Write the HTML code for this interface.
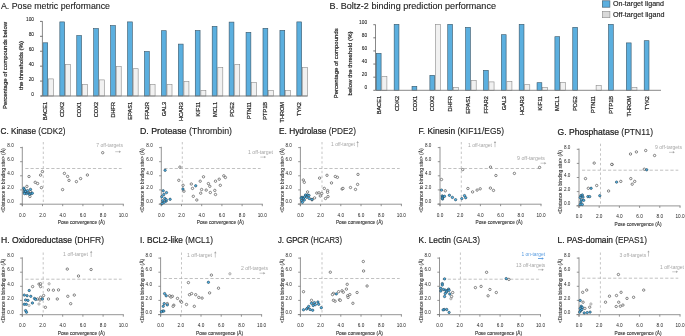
<!DOCTYPE html>
<html><head><meta charset="utf-8"><style>
html,body{margin:0;padding:0;background:#fff;}
svg{display:block;font-family:"Liberation Sans", sans-serif;will-change:transform;}
</style></head><body>
<svg width="685" height="336" viewBox="0 0 685 336">
<rect width="685" height="336" fill="#fff"/>
<text x="1.00" y="8.90" font-size="9.8" fill="#222" text-anchor="start" stroke="#222" stroke-width="0.12" textLength="109.00" lengthAdjust="spacingAndGlyphs" >A. Pose metric performance</text>
<rect x="42.90" y="42.80" width="4.80" height="53.20" fill="#5BAFDF" stroke="#3a5566" stroke-width="0.6"/>
<rect x="48.50" y="78.90" width="5.00" height="17.10" fill="#F1F1F1" stroke="#8a8a8a" stroke-width="0.6"/>
<text x="47.40" y="102.00" font-size="5.6" fill="#222" text-anchor="end" stroke="#222" stroke-width="0.2" transform="rotate(-90 47.40 102.00)" >BACE1</text>
<rect x="59.83" y="21.90" width="4.80" height="74.10" fill="#5BAFDF" stroke="#3a5566" stroke-width="0.6"/>
<rect x="65.43" y="64.50" width="5.00" height="31.50" fill="#F1F1F1" stroke="#8a8a8a" stroke-width="0.6"/>
<text x="64.33" y="102.00" font-size="5.6" fill="#222" text-anchor="end" stroke="#222" stroke-width="0.2" transform="rotate(-90 64.33 102.00)" >CDK2</text>
<rect x="76.76" y="35.50" width="4.80" height="60.50" fill="#5BAFDF" stroke="#3a5566" stroke-width="0.6"/>
<rect x="82.36" y="84.50" width="5.00" height="11.50" fill="#F1F1F1" stroke="#8a8a8a" stroke-width="0.6"/>
<text x="81.26" y="102.00" font-size="5.6" fill="#222" text-anchor="end" stroke="#222" stroke-width="0.2" transform="rotate(-90 81.26 102.00)" >COX1</text>
<rect x="93.69" y="28.50" width="4.80" height="67.50" fill="#5BAFDF" stroke="#3a5566" stroke-width="0.6"/>
<rect x="99.29" y="79.90" width="5.00" height="16.10" fill="#F1F1F1" stroke="#8a8a8a" stroke-width="0.6"/>
<text x="98.19" y="102.00" font-size="5.6" fill="#222" text-anchor="end" stroke="#222" stroke-width="0.2" transform="rotate(-90 98.19 102.00)" >COX2</text>
<rect x="110.62" y="25.50" width="4.80" height="70.50" fill="#5BAFDF" stroke="#3a5566" stroke-width="0.6"/>
<rect x="116.22" y="66.50" width="5.00" height="29.50" fill="#F1F1F1" stroke="#8a8a8a" stroke-width="0.6"/>
<text x="115.12" y="102.00" font-size="5.6" fill="#222" text-anchor="end" stroke="#222" stroke-width="0.2" transform="rotate(-90 115.12 102.00)" >DHFR</text>
<rect x="127.55" y="21.90" width="4.80" height="74.10" fill="#5BAFDF" stroke="#3a5566" stroke-width="0.6"/>
<rect x="133.15" y="68.70" width="5.00" height="27.30" fill="#F1F1F1" stroke="#8a8a8a" stroke-width="0.6"/>
<text x="132.05" y="102.00" font-size="5.6" fill="#222" text-anchor="end" stroke="#222" stroke-width="0.2" transform="rotate(-90 132.05 102.00)" >EPAS1</text>
<rect x="144.48" y="51.50" width="4.80" height="44.50" fill="#5BAFDF" stroke="#3a5566" stroke-width="0.6"/>
<rect x="150.08" y="84.50" width="5.00" height="11.50" fill="#F1F1F1" stroke="#8a8a8a" stroke-width="0.6"/>
<text x="148.98" y="102.00" font-size="5.6" fill="#222" text-anchor="end" stroke="#222" stroke-width="0.2" transform="rotate(-90 148.98 102.00)" >FFA2R</text>
<rect x="161.41" y="30.70" width="4.80" height="65.30" fill="#5BAFDF" stroke="#3a5566" stroke-width="0.6"/>
<rect x="167.01" y="84.50" width="5.00" height="11.50" fill="#F1F1F1" stroke="#8a8a8a" stroke-width="0.6"/>
<text x="165.91" y="102.00" font-size="5.6" fill="#222" text-anchor="end" stroke="#222" stroke-width="0.2" transform="rotate(-90 165.91 102.00)" >GAL3</text>
<rect x="178.34" y="44.10" width="4.80" height="51.90" fill="#5BAFDF" stroke="#3a5566" stroke-width="0.6"/>
<rect x="183.94" y="81.50" width="5.00" height="14.50" fill="#F1F1F1" stroke="#8a8a8a" stroke-width="0.6"/>
<text x="182.84" y="102.00" font-size="5.6" fill="#222" text-anchor="end" stroke="#222" stroke-width="0.2" transform="rotate(-90 182.84 102.00)" >HCAR3</text>
<rect x="195.27" y="30.50" width="4.80" height="65.50" fill="#5BAFDF" stroke="#3a5566" stroke-width="0.6"/>
<rect x="200.87" y="90.50" width="5.00" height="5.50" fill="#F1F1F1" stroke="#8a8a8a" stroke-width="0.6"/>
<text x="199.77" y="102.00" font-size="5.6" fill="#222" text-anchor="end" stroke="#222" stroke-width="0.2" transform="rotate(-90 199.77 102.00)" >KIF11</text>
<rect x="212.20" y="26.30" width="4.80" height="69.70" fill="#5BAFDF" stroke="#3a5566" stroke-width="0.6"/>
<rect x="217.80" y="67.50" width="5.00" height="28.50" fill="#F1F1F1" stroke="#8a8a8a" stroke-width="0.6"/>
<text x="216.70" y="102.00" font-size="5.6" fill="#222" text-anchor="end" stroke="#222" stroke-width="0.2" transform="rotate(-90 216.70 102.00)" >MCL1</text>
<rect x="229.13" y="22.10" width="4.80" height="73.90" fill="#5BAFDF" stroke="#3a5566" stroke-width="0.6"/>
<rect x="234.73" y="64.30" width="5.00" height="31.70" fill="#F1F1F1" stroke="#8a8a8a" stroke-width="0.6"/>
<text x="233.63" y="102.00" font-size="5.6" fill="#222" text-anchor="end" stroke="#222" stroke-width="0.2" transform="rotate(-90 233.63 102.00)" >PDE2</text>
<rect x="246.06" y="32.30" width="4.80" height="63.70" fill="#5BAFDF" stroke="#3a5566" stroke-width="0.6"/>
<rect x="251.66" y="82.50" width="5.00" height="13.50" fill="#F1F1F1" stroke="#8a8a8a" stroke-width="0.6"/>
<text x="250.56" y="102.00" font-size="5.6" fill="#222" text-anchor="end" stroke="#222" stroke-width="0.2" transform="rotate(-90 250.56 102.00)" >PTN11</text>
<rect x="262.99" y="28.30" width="4.80" height="67.70" fill="#5BAFDF" stroke="#3a5566" stroke-width="0.6"/>
<rect x="268.59" y="90.50" width="5.00" height="5.50" fill="#F1F1F1" stroke="#8a8a8a" stroke-width="0.6"/>
<text x="267.49" y="102.00" font-size="5.6" fill="#222" text-anchor="end" stroke="#222" stroke-width="0.2" transform="rotate(-90 267.49 102.00)" >PTP1B</text>
<rect x="279.92" y="30.30" width="4.80" height="65.70" fill="#5BAFDF" stroke="#3a5566" stroke-width="0.6"/>
<rect x="285.52" y="90.50" width="5.00" height="5.50" fill="#F1F1F1" stroke="#8a8a8a" stroke-width="0.6"/>
<text x="284.42" y="102.00" font-size="5.6" fill="#222" text-anchor="end" stroke="#222" stroke-width="0.2" transform="rotate(-90 284.42 102.00)" >THROM</text>
<rect x="296.85" y="21.90" width="4.80" height="74.10" fill="#5BAFDF" stroke="#3a5566" stroke-width="0.6"/>
<rect x="302.45" y="67.50" width="5.00" height="28.50" fill="#F1F1F1" stroke="#8a8a8a" stroke-width="0.6"/>
<text x="301.35" y="102.00" font-size="5.6" fill="#222" text-anchor="end" stroke="#222" stroke-width="0.2" transform="rotate(-90 301.35 102.00)" >TYK2</text>
<line x1="41.00" y1="96.00" x2="307.60" y2="96.00" stroke="#7a7a7a" stroke-width="0.9"/>
<line x1="42.40" y1="21.30" x2="42.40" y2="96.00" stroke="#7a7a7a" stroke-width="0.9"/>
<line x1="40.00" y1="96.00" x2="42.40" y2="96.00" stroke="#555" stroke-width="0.8"/>
<text x="34.00" y="95.90" font-size="4.8" fill="#222" text-anchor="end" stroke="#222" stroke-width="0.08" >0</text>
<line x1="40.00" y1="81.08" x2="42.40" y2="81.08" stroke="#555" stroke-width="0.8"/>
<text x="34.00" y="80.98" font-size="4.8" fill="#222" text-anchor="end" stroke="#222" stroke-width="0.08" >20</text>
<line x1="40.00" y1="66.16" x2="42.40" y2="66.16" stroke="#555" stroke-width="0.8"/>
<text x="34.00" y="66.06" font-size="4.8" fill="#222" text-anchor="end" stroke="#222" stroke-width="0.08" >40</text>
<line x1="40.00" y1="51.24" x2="42.40" y2="51.24" stroke="#555" stroke-width="0.8"/>
<text x="34.00" y="51.14" font-size="4.8" fill="#222" text-anchor="end" stroke="#222" stroke-width="0.08" >60</text>
<line x1="40.00" y1="36.32" x2="42.40" y2="36.32" stroke="#555" stroke-width="0.8"/>
<text x="34.00" y="36.22" font-size="4.8" fill="#222" text-anchor="end" stroke="#222" stroke-width="0.08" >80</text>
<line x1="40.00" y1="21.40" x2="42.40" y2="21.40" stroke="#555" stroke-width="0.8"/>
<text x="34.00" y="21.30" font-size="4.8" fill="#222" text-anchor="end" stroke="#222" stroke-width="0.08" >100</text>
<text x="7.30" y="65.50" font-size="6.0" fill="#222" text-anchor="middle" stroke="#222" stroke-width="0.2" textLength="87.00" lengthAdjust="spacingAndGlyphs" transform="rotate(-90 7.30 65.50)" >Percentage of compounds below</text>
<text x="22.50" y="65.50" font-size="6.0" fill="#222" text-anchor="middle" stroke="#222" stroke-width="0.2" textLength="49.00" lengthAdjust="spacingAndGlyphs" transform="rotate(-90 22.50 65.50)" >the thresholds (%)</text>
<text x="329.60" y="8.90" font-size="9.8" fill="#222" text-anchor="start" stroke="#222" stroke-width="0.12" textLength="166.40" lengthAdjust="spacingAndGlyphs" >B. Boltz-2 binding prediction performance</text>
<rect x="376.30" y="53.30" width="4.80" height="37.00" fill="#5BAFDF" stroke="#3a5566" stroke-width="0.6"/>
<rect x="381.80" y="76.30" width="5.10" height="14.00" fill="#F1F1F1" stroke="#8a8a8a" stroke-width="0.6"/>
<text x="380.80" y="96.00" font-size="5.6" fill="#222" text-anchor="end" stroke="#222" stroke-width="0.2" transform="rotate(-90 380.80 96.00)" >BACE1</text>
<rect x="394.16" y="24.30" width="4.80" height="66.00" fill="#5BAFDF" stroke="#3a5566" stroke-width="0.6"/>
<text x="398.66" y="96.00" font-size="5.6" fill="#222" text-anchor="end" stroke="#222" stroke-width="0.2" transform="rotate(-90 398.66 96.00)" >CDK2</text>
<rect x="412.02" y="86.30" width="4.80" height="4.00" fill="#5BAFDF" stroke="#3a5566" stroke-width="0.6"/>
<text x="416.52" y="96.00" font-size="5.6" fill="#222" text-anchor="end" stroke="#222" stroke-width="0.2" transform="rotate(-90 416.52 96.00)" >COX1</text>
<rect x="429.88" y="75.30" width="4.80" height="15.00" fill="#5BAFDF" stroke="#3a5566" stroke-width="0.6"/>
<rect x="435.38" y="24.30" width="5.10" height="66.00" fill="#F1F1F1" stroke="#8a8a8a" stroke-width="0.6"/>
<text x="434.38" y="96.00" font-size="5.6" fill="#222" text-anchor="end" stroke="#222" stroke-width="0.2" transform="rotate(-90 434.38 96.00)" >COX2</text>
<rect x="447.74" y="24.30" width="4.80" height="66.00" fill="#5BAFDF" stroke="#3a5566" stroke-width="0.6"/>
<rect x="453.24" y="87.30" width="5.10" height="3.00" fill="#F1F1F1" stroke="#8a8a8a" stroke-width="0.6"/>
<text x="452.24" y="96.00" font-size="5.6" fill="#222" text-anchor="end" stroke="#222" stroke-width="0.2" transform="rotate(-90 452.24 96.00)" >DHFR</text>
<rect x="465.60" y="27.30" width="4.80" height="63.00" fill="#5BAFDF" stroke="#3a5566" stroke-width="0.6"/>
<rect x="471.10" y="80.30" width="5.10" height="10.00" fill="#F1F1F1" stroke="#8a8a8a" stroke-width="0.6"/>
<text x="470.10" y="96.00" font-size="5.6" fill="#222" text-anchor="end" stroke="#222" stroke-width="0.2" transform="rotate(-90 470.10 96.00)" >EPAS1</text>
<rect x="483.46" y="70.30" width="4.80" height="20.00" fill="#5BAFDF" stroke="#3a5566" stroke-width="0.6"/>
<rect x="488.96" y="81.90" width="5.10" height="8.40" fill="#F1F1F1" stroke="#8a8a8a" stroke-width="0.6"/>
<text x="487.96" y="96.00" font-size="5.6" fill="#222" text-anchor="end" stroke="#222" stroke-width="0.2" transform="rotate(-90 487.96 96.00)" >FFAR2</text>
<rect x="501.32" y="34.70" width="4.80" height="55.60" fill="#5BAFDF" stroke="#3a5566" stroke-width="0.6"/>
<rect x="506.82" y="81.30" width="5.10" height="9.00" fill="#F1F1F1" stroke="#8a8a8a" stroke-width="0.6"/>
<text x="505.82" y="96.00" font-size="5.6" fill="#222" text-anchor="end" stroke="#222" stroke-width="0.2" transform="rotate(-90 505.82 96.00)" >GAL3</text>
<rect x="519.18" y="24.30" width="4.80" height="66.00" fill="#5BAFDF" stroke="#3a5566" stroke-width="0.6"/>
<rect x="524.68" y="84.70" width="5.10" height="5.60" fill="#F1F1F1" stroke="#8a8a8a" stroke-width="0.6"/>
<text x="523.68" y="96.00" font-size="5.6" fill="#222" text-anchor="end" stroke="#222" stroke-width="0.2" transform="rotate(-90 523.68 96.00)" >HCAR3</text>
<rect x="537.04" y="82.70" width="4.80" height="7.60" fill="#5BAFDF" stroke="#3a5566" stroke-width="0.6"/>
<rect x="542.54" y="87.50" width="5.10" height="2.80" fill="#F1F1F1" stroke="#8a8a8a" stroke-width="0.6"/>
<text x="541.54" y="96.00" font-size="5.6" fill="#222" text-anchor="end" stroke="#222" stroke-width="0.2" transform="rotate(-90 541.54 96.00)" >KIF11</text>
<rect x="554.90" y="36.70" width="4.80" height="53.60" fill="#5BAFDF" stroke="#3a5566" stroke-width="0.6"/>
<rect x="560.40" y="82.30" width="5.10" height="8.00" fill="#F1F1F1" stroke="#8a8a8a" stroke-width="0.6"/>
<text x="559.40" y="96.00" font-size="5.6" fill="#222" text-anchor="end" stroke="#222" stroke-width="0.2" transform="rotate(-90 559.40 96.00)" >MCL1</text>
<rect x="572.76" y="27.30" width="4.80" height="63.00" fill="#5BAFDF" stroke="#3a5566" stroke-width="0.6"/>
<text x="577.26" y="96.00" font-size="5.6" fill="#222" text-anchor="end" stroke="#222" stroke-width="0.2" transform="rotate(-90 577.26 96.00)" >PDE2</text>
<rect x="596.12" y="85.50" width="5.10" height="4.80" fill="#F1F1F1" stroke="#8a8a8a" stroke-width="0.6"/>
<text x="595.12" y="96.00" font-size="5.6" fill="#222" text-anchor="end" stroke="#222" stroke-width="0.2" transform="rotate(-90 595.12 96.00)" >PTN11</text>
<rect x="608.48" y="24.30" width="4.80" height="66.00" fill="#5BAFDF" stroke="#3a5566" stroke-width="0.6"/>
<text x="612.98" y="96.00" font-size="5.6" fill="#222" text-anchor="end" stroke="#222" stroke-width="0.2" transform="rotate(-90 612.98 96.00)" >PTP1B</text>
<rect x="626.34" y="42.90" width="4.80" height="47.40" fill="#5BAFDF" stroke="#3a5566" stroke-width="0.6"/>
<rect x="631.84" y="87.50" width="5.10" height="2.80" fill="#F1F1F1" stroke="#8a8a8a" stroke-width="0.6"/>
<text x="630.84" y="96.00" font-size="5.6" fill="#222" text-anchor="end" stroke="#222" stroke-width="0.2" transform="rotate(-90 630.84 96.00)" >THROM</text>
<rect x="644.20" y="40.70" width="4.80" height="49.60" fill="#5BAFDF" stroke="#3a5566" stroke-width="0.6"/>
<text x="648.70" y="96.00" font-size="5.6" fill="#222" text-anchor="end" stroke="#222" stroke-width="0.2" transform="rotate(-90 648.70 96.00)" >TYK2</text>
<line x1="375.50" y1="90.30" x2="661.00" y2="90.30" stroke="#7a7a7a" stroke-width="0.9"/>
<line x1="375.50" y1="24.60" x2="375.50" y2="90.30" stroke="#7a7a7a" stroke-width="0.9"/>
<line x1="373.30" y1="90.30" x2="375.50" y2="90.30" stroke="#555" stroke-width="0.8"/>
<text x="367.10" y="89.30" font-size="4.8" fill="#222" text-anchor="end" stroke="#222" stroke-width="0.08" >0</text>
<line x1="373.30" y1="77.18" x2="375.50" y2="77.18" stroke="#555" stroke-width="0.8"/>
<text x="367.10" y="76.18" font-size="4.8" fill="#222" text-anchor="end" stroke="#222" stroke-width="0.08" >20</text>
<line x1="373.30" y1="64.06" x2="375.50" y2="64.06" stroke="#555" stroke-width="0.8"/>
<text x="367.10" y="63.06" font-size="4.8" fill="#222" text-anchor="end" stroke="#222" stroke-width="0.08" >40</text>
<line x1="373.30" y1="50.94" x2="375.50" y2="50.94" stroke="#555" stroke-width="0.8"/>
<text x="367.10" y="49.94" font-size="4.8" fill="#222" text-anchor="end" stroke="#222" stroke-width="0.08" >60</text>
<line x1="373.30" y1="37.82" x2="375.50" y2="37.82" stroke="#555" stroke-width="0.8"/>
<text x="367.10" y="36.82" font-size="4.8" fill="#222" text-anchor="end" stroke="#222" stroke-width="0.08" >80</text>
<line x1="373.30" y1="24.70" x2="375.50" y2="24.70" stroke="#555" stroke-width="0.8"/>
<text x="367.10" y="23.70" font-size="4.8" fill="#222" text-anchor="end" stroke="#222" stroke-width="0.08" >100</text>
<text x="337.60" y="63.30" font-size="6.0" fill="#222" text-anchor="middle" stroke="#222" stroke-width="0.2" textLength="70.00" lengthAdjust="spacingAndGlyphs" transform="rotate(-90 337.60 63.30)" >Percentage of compounds</text>
<text x="352.20" y="63.40" font-size="6.0" fill="#222" text-anchor="middle" stroke="#222" stroke-width="0.2" textLength="64.00" lengthAdjust="spacingAndGlyphs" transform="rotate(-90 352.20 63.40)" >below the threshold (%)</text>
<rect x="602.30" y="0.80" width="7.60" height="6.40" fill="#5BAFDF" stroke="#3a5566" stroke-width="0.6"/>
<rect x="602.30" y="11.30" width="7.60" height="6.40" fill="#d9d9d9" stroke="#8a8a8a" stroke-width="0.6"/>
<text x="613.00" y="6.10" font-size="7.2" fill="#222" text-anchor="start" stroke="#222" stroke-width="0.15" textLength="51.00" lengthAdjust="spacingAndGlyphs" >On-target ligand</text>
<text x="613.00" y="17.10" font-size="7.2" fill="#222" text-anchor="start" stroke="#222" stroke-width="0.15" textLength="51.50" lengthAdjust="spacingAndGlyphs" >Off-target ligand</text>
<text x="0.50" y="134.40" font-size="9.8" fill="#222" textLength="65.00" lengthAdjust="spacingAndGlyphs"><tspan stroke="#1a1a1a" stroke-width="0.24">C. Kinase </tspan><tspan stroke="#222" stroke-width="0.12">(CDK2)</tspan></text>
<line x1="22.30" y1="146.80" x2="22.30" y2="206.20" stroke="#7a7a7a" stroke-width="0.8"/>
<line x1="19.70" y1="204.20" x2="123.80" y2="204.20" stroke="#7a7a7a" stroke-width="0.8"/>
<line x1="20.10" y1="204.00" x2="22.30" y2="204.00" stroke="#7a7a7a" stroke-width="0.8"/>
<text x="13.70" y="203.20" font-size="4.6" fill="#222" text-anchor="end" >0.0</text>
<line x1="20.10" y1="189.90" x2="22.30" y2="189.90" stroke="#7a7a7a" stroke-width="0.8"/>
<text x="13.70" y="189.10" font-size="4.6" fill="#222" text-anchor="end" >2.0</text>
<line x1="20.10" y1="175.80" x2="22.30" y2="175.80" stroke="#7a7a7a" stroke-width="0.8"/>
<text x="13.70" y="175.00" font-size="4.6" fill="#222" text-anchor="end" >4.0</text>
<line x1="20.10" y1="161.70" x2="22.30" y2="161.70" stroke="#7a7a7a" stroke-width="0.8"/>
<text x="13.70" y="160.90" font-size="4.6" fill="#222" text-anchor="end" >6.0</text>
<line x1="20.10" y1="147.60" x2="22.30" y2="147.60" stroke="#7a7a7a" stroke-width="0.8"/>
<text x="13.70" y="146.80" font-size="4.6" fill="#222" text-anchor="end" >8.0</text>
<line x1="22.30" y1="204.20" x2="22.30" y2="206.20" stroke="#7a7a7a" stroke-width="0.8"/>
<text x="22.30" y="216.50" font-size="4.7" fill="#222" text-anchor="middle" >0.0</text>
<line x1="42.50" y1="204.20" x2="42.50" y2="206.20" stroke="#7a7a7a" stroke-width="0.8"/>
<text x="42.50" y="216.50" font-size="4.7" fill="#222" text-anchor="middle" >2.0</text>
<line x1="62.70" y1="204.20" x2="62.70" y2="206.20" stroke="#7a7a7a" stroke-width="0.8"/>
<text x="62.70" y="216.50" font-size="4.7" fill="#222" text-anchor="middle" >4.0</text>
<line x1="82.90" y1="204.20" x2="82.90" y2="206.20" stroke="#7a7a7a" stroke-width="0.8"/>
<text x="82.90" y="216.50" font-size="4.7" fill="#222" text-anchor="middle" >6.0</text>
<line x1="103.10" y1="204.20" x2="103.10" y2="206.20" stroke="#7a7a7a" stroke-width="0.8"/>
<text x="103.10" y="216.50" font-size="4.7" fill="#222" text-anchor="middle" >8.0</text>
<line x1="123.30" y1="204.20" x2="123.30" y2="206.20" stroke="#7a7a7a" stroke-width="0.8"/>
<text x="123.30" y="216.50" font-size="4.7" fill="#222" text-anchor="middle" >10.0</text>
<text x="81.30" y="224.40" font-size="5.1" fill="#333" text-anchor="middle" stroke="#333" stroke-width="0.12" textLength="47.00" lengthAdjust="spacingAndGlyphs" >Pose convergence (Å)</text>
<text x="5.40" y="180.50" font-size="5.0" fill="#333" text-anchor="middle" stroke="#333" stroke-width="0.1" textLength="64.30" lengthAdjust="spacingAndGlyphs" transform="rotate(-90 5.40 180.50)" >&lt;Distance to binding site&gt; (Å)</text>
<line x1="43.30" y1="142.00" x2="43.30" y2="204.20" stroke="#acacac" stroke-width="0.7" stroke-dasharray="2.4,2.4"/>
<line x1="25.30" y1="168.50" x2="121.60" y2="168.50" stroke="#acacac" stroke-width="0.75" stroke-dasharray="3.2,2.0"/>
<text x="96.20" y="146.80" font-size="5.0" fill="#a6a6a6" text-anchor="start" textLength="26.80" lengthAdjust="spacingAndGlyphs" >7 off-targets</text>
<line x1="115.20" y1="151.70" x2="119.80" y2="151.70" stroke="#a6a6a6" stroke-width="0.6"/>
<path d="M121.00 151.70 L119.10 150.50 L119.10 152.90 Z" fill="#a6a6a6"/>
<circle cx="29.0" cy="176.5" r="1.2" fill="#fff" stroke="#3a3a3a" stroke-width="0.6"/>
<circle cx="35.2" cy="182.3" r="1.2" fill="#fff" stroke="#3a3a3a" stroke-width="0.6"/>
<circle cx="37.6" cy="183.5" r="1.2" fill="#fff" stroke="#3a3a3a" stroke-width="0.6"/>
<circle cx="40.6" cy="175.1" r="1.2" fill="#fff" stroke="#3a3a3a" stroke-width="0.6"/>
<circle cx="42.4" cy="171.5" r="1.2" fill="#fff" stroke="#3a3a3a" stroke-width="0.6"/>
<circle cx="41.4" cy="187.6" r="1.2" fill="#fff" stroke="#3a3a3a" stroke-width="0.6"/>
<circle cx="26.9" cy="186.4" r="1.2" fill="#fff" stroke="#3a3a3a" stroke-width="0.6"/>
<circle cx="29.9" cy="196.5" r="1.2" fill="#fff" stroke="#3a3a3a" stroke-width="0.6"/>
<circle cx="30.5" cy="191.8" r="1.2" fill="#fff" stroke="#3a3a3a" stroke-width="0.6"/>
<circle cx="62.6" cy="189.6" r="1.2" fill="#fff" stroke="#3a3a3a" stroke-width="0.6"/>
<circle cx="64.4" cy="173.4" r="1.2" fill="#fff" stroke="#3a3a3a" stroke-width="0.6"/>
<circle cx="67.6" cy="176.4" r="1.2" fill="#fff" stroke="#3a3a3a" stroke-width="0.6"/>
<circle cx="69.0" cy="180.4" r="1.2" fill="#fff" stroke="#3a3a3a" stroke-width="0.6"/>
<circle cx="76.4" cy="181.6" r="1.2" fill="#fff" stroke="#3a3a3a" stroke-width="0.6"/>
<circle cx="80.6" cy="178.6" r="1.2" fill="#fff" stroke="#3a3a3a" stroke-width="0.6"/>
<circle cx="87.4" cy="175.0" r="1.2" fill="#fff" stroke="#3a3a3a" stroke-width="0.6"/>
<circle cx="102.7" cy="152.7" r="1.2" fill="#fff" stroke="#3a3a3a" stroke-width="0.6"/>
<circle cx="23.9" cy="188.2" r="1.2" fill="#4FB6EC" stroke="#18303e" stroke-width="0.55"/>
<circle cx="24.5" cy="190.0" r="1.2" fill="#4FB6EC" stroke="#18303e" stroke-width="0.55"/>
<circle cx="24.3" cy="192.1" r="1.2" fill="#4FB6EC" stroke="#18303e" stroke-width="0.55"/>
<circle cx="25.7" cy="191.4" r="1.2" fill="#4FB6EC" stroke="#18303e" stroke-width="0.55"/>
<circle cx="26.3" cy="193.6" r="1.2" fill="#4FB6EC" stroke="#18303e" stroke-width="0.55"/>
<circle cx="27.5" cy="190.6" r="1.2" fill="#4FB6EC" stroke="#18303e" stroke-width="0.55"/>
<circle cx="28.1" cy="193.0" r="1.2" fill="#4FB6EC" stroke="#18303e" stroke-width="0.55"/>
<circle cx="29.3" cy="194.2" r="1.2" fill="#4FB6EC" stroke="#18303e" stroke-width="0.55"/>
<circle cx="30.5" cy="189.4" r="1.2" fill="#4FB6EC" stroke="#18303e" stroke-width="0.55"/>
<circle cx="31.1" cy="193.6" r="1.2" fill="#4FB6EC" stroke="#18303e" stroke-width="0.55"/>
<circle cx="32.3" cy="193.2" r="1.2" fill="#4FB6EC" stroke="#18303e" stroke-width="0.55"/>
<circle cx="24.5" cy="193.6" r="1.2" fill="#4FB6EC" stroke="#18303e" stroke-width="0.55"/>
<text x="140.00" y="134.40" font-size="9.8" fill="#222" textLength="92.00" lengthAdjust="spacingAndGlyphs"><tspan stroke="#1a1a1a" stroke-width="0.24">D. Protease </tspan><tspan stroke="#222" stroke-width="0.12">(Thrombin)</tspan></text>
<line x1="161.30" y1="146.80" x2="161.30" y2="206.20" stroke="#7a7a7a" stroke-width="0.8"/>
<line x1="158.70" y1="204.20" x2="262.80" y2="204.20" stroke="#7a7a7a" stroke-width="0.8"/>
<line x1="159.10" y1="204.00" x2="161.30" y2="204.00" stroke="#7a7a7a" stroke-width="0.8"/>
<text x="152.70" y="203.20" font-size="4.6" fill="#222" text-anchor="end" >0.0</text>
<line x1="159.10" y1="189.90" x2="161.30" y2="189.90" stroke="#7a7a7a" stroke-width="0.8"/>
<text x="152.70" y="189.10" font-size="4.6" fill="#222" text-anchor="end" >2.0</text>
<line x1="159.10" y1="175.80" x2="161.30" y2="175.80" stroke="#7a7a7a" stroke-width="0.8"/>
<text x="152.70" y="175.00" font-size="4.6" fill="#222" text-anchor="end" >4.0</text>
<line x1="159.10" y1="161.70" x2="161.30" y2="161.70" stroke="#7a7a7a" stroke-width="0.8"/>
<text x="152.70" y="160.90" font-size="4.6" fill="#222" text-anchor="end" >6.0</text>
<line x1="159.10" y1="147.60" x2="161.30" y2="147.60" stroke="#7a7a7a" stroke-width="0.8"/>
<text x="152.70" y="146.80" font-size="4.6" fill="#222" text-anchor="end" >8.0</text>
<line x1="161.30" y1="204.20" x2="161.30" y2="206.20" stroke="#7a7a7a" stroke-width="0.8"/>
<text x="161.30" y="216.50" font-size="4.7" fill="#222" text-anchor="middle" >0.0</text>
<line x1="181.50" y1="204.20" x2="181.50" y2="206.20" stroke="#7a7a7a" stroke-width="0.8"/>
<text x="181.50" y="216.50" font-size="4.7" fill="#222" text-anchor="middle" >2.0</text>
<line x1="201.70" y1="204.20" x2="201.70" y2="206.20" stroke="#7a7a7a" stroke-width="0.8"/>
<text x="201.70" y="216.50" font-size="4.7" fill="#222" text-anchor="middle" >4.0</text>
<line x1="221.90" y1="204.20" x2="221.90" y2="206.20" stroke="#7a7a7a" stroke-width="0.8"/>
<text x="221.90" y="216.50" font-size="4.7" fill="#222" text-anchor="middle" >6.0</text>
<line x1="242.10" y1="204.20" x2="242.10" y2="206.20" stroke="#7a7a7a" stroke-width="0.8"/>
<text x="242.10" y="216.50" font-size="4.7" fill="#222" text-anchor="middle" >8.0</text>
<line x1="262.30" y1="204.20" x2="262.30" y2="206.20" stroke="#7a7a7a" stroke-width="0.8"/>
<text x="262.30" y="216.50" font-size="4.7" fill="#222" text-anchor="middle" >10.0</text>
<text x="220.30" y="224.40" font-size="5.1" fill="#333" text-anchor="middle" stroke="#333" stroke-width="0.12" textLength="47.00" lengthAdjust="spacingAndGlyphs" >Pose convergence (Å)</text>
<text x="144.40" y="180.50" font-size="5.0" fill="#333" text-anchor="middle" stroke="#333" stroke-width="0.1" textLength="64.30" lengthAdjust="spacingAndGlyphs" transform="rotate(-90 144.40 180.50)" >&lt;Distance to binding site&gt; (Å)</text>
<line x1="182.30" y1="142.00" x2="182.30" y2="204.20" stroke="#acacac" stroke-width="0.7" stroke-dasharray="2.4,2.4"/>
<line x1="164.30" y1="168.50" x2="260.60" y2="168.50" stroke="#acacac" stroke-width="0.75" stroke-dasharray="3.2,2.0"/>
<text x="248.00" y="153.80" font-size="5.0" fill="#a6a6a6" text-anchor="start" textLength="25.00" lengthAdjust="spacingAndGlyphs" >1 off-target</text>
<line x1="260.30" y1="157.10" x2="264.90" y2="157.10" stroke="#a6a6a6" stroke-width="0.6"/>
<path d="M266.10 157.10 L264.20 155.90 L264.20 158.30 Z" fill="#a6a6a6"/>
<circle cx="179.9" cy="167.1" r="1.2" fill="#fff" stroke="#3a3a3a" stroke-width="0.6"/>
<circle cx="178.8" cy="180.3" r="1.2" fill="#fff" stroke="#3a3a3a" stroke-width="0.6"/>
<circle cx="183.1" cy="185.3" r="1.2" fill="#fff" stroke="#3a3a3a" stroke-width="0.6"/>
<circle cx="184.0" cy="191.2" r="1.2" fill="#fff" stroke="#3a3a3a" stroke-width="0.6"/>
<circle cx="191.3" cy="184.0" r="1.2" fill="#fff" stroke="#3a3a3a" stroke-width="0.6"/>
<circle cx="192.5" cy="188.4" r="1.2" fill="#fff" stroke="#3a3a3a" stroke-width="0.6"/>
<circle cx="193.3" cy="196.3" r="1.2" fill="#fff" stroke="#3a3a3a" stroke-width="0.6"/>
<circle cx="196.8" cy="200.0" r="1.2" fill="#fff" stroke="#3a3a3a" stroke-width="0.6"/>
<circle cx="200.2" cy="181.2" r="1.2" fill="#fff" stroke="#3a3a3a" stroke-width="0.6"/>
<circle cx="203.5" cy="176.8" r="1.2" fill="#fff" stroke="#3a3a3a" stroke-width="0.6"/>
<circle cx="201.6" cy="189.5" r="1.2" fill="#fff" stroke="#3a3a3a" stroke-width="0.6"/>
<circle cx="200.7" cy="193.2" r="1.2" fill="#fff" stroke="#3a3a3a" stroke-width="0.6"/>
<circle cx="206.2" cy="190.1" r="1.2" fill="#fff" stroke="#3a3a3a" stroke-width="0.6"/>
<circle cx="208.4" cy="183.6" r="1.2" fill="#fff" stroke="#3a3a3a" stroke-width="0.6"/>
<circle cx="209.8" cy="186.3" r="1.2" fill="#fff" stroke="#3a3a3a" stroke-width="0.6"/>
<circle cx="210.3" cy="192.5" r="1.2" fill="#fff" stroke="#3a3a3a" stroke-width="0.6"/>
<circle cx="214.8" cy="190.4" r="1.2" fill="#fff" stroke="#3a3a3a" stroke-width="0.6"/>
<circle cx="215.5" cy="181.2" r="1.2" fill="#fff" stroke="#3a3a3a" stroke-width="0.6"/>
<circle cx="215.5" cy="194.5" r="1.2" fill="#fff" stroke="#3a3a3a" stroke-width="0.6"/>
<circle cx="219.2" cy="179.2" r="1.2" fill="#fff" stroke="#3a3a3a" stroke-width="0.6"/>
<circle cx="220.3" cy="185.3" r="1.2" fill="#fff" stroke="#3a3a3a" stroke-width="0.6"/>
<circle cx="223.8" cy="175.8" r="1.2" fill="#fff" stroke="#3a3a3a" stroke-width="0.6"/>
<circle cx="225.4" cy="177.5" r="1.2" fill="#fff" stroke="#3a3a3a" stroke-width="0.6"/>
<circle cx="165.1" cy="170.3" r="1.2" fill="#4FB6EC" stroke="#18303e" stroke-width="0.55"/>
<circle cx="195.7" cy="185.8" r="1.2" fill="#4FB6EC" stroke="#18303e" stroke-width="0.55"/>
<circle cx="182.9" cy="189.0" r="1.2" fill="#4FB6EC" stroke="#18303e" stroke-width="0.55"/>
<circle cx="163.2" cy="190.8" r="1.2" fill="#4FB6EC" stroke="#18303e" stroke-width="0.55"/>
<circle cx="166.5" cy="192.6" r="1.2" fill="#4FB6EC" stroke="#18303e" stroke-width="0.55"/>
<circle cx="163.8" cy="194.5" r="1.2" fill="#4FB6EC" stroke="#18303e" stroke-width="0.55"/>
<circle cx="161.8" cy="196.7" r="1.2" fill="#4FB6EC" stroke="#18303e" stroke-width="0.55"/>
<circle cx="164.8" cy="198.4" r="1.2" fill="#4FB6EC" stroke="#18303e" stroke-width="0.55"/>
<circle cx="170.1" cy="199.3" r="1.2" fill="#4FB6EC" stroke="#18303e" stroke-width="0.55"/>
<circle cx="162.8" cy="200.8" r="1.2" fill="#4FB6EC" stroke="#18303e" stroke-width="0.55"/>
<circle cx="166.2" cy="201.1" r="1.2" fill="#4FB6EC" stroke="#18303e" stroke-width="0.55"/>
<circle cx="162.1" cy="203.6" r="1.2" fill="#4FB6EC" stroke="#18303e" stroke-width="0.55"/>
<circle cx="164.2" cy="202.2" r="1.2" fill="#4FB6EC" stroke="#18303e" stroke-width="0.55"/>
<circle cx="166.2" cy="199.7" r="1.2" fill="#4FB6EC" stroke="#18303e" stroke-width="0.55"/>
<text x="279.00" y="134.40" font-size="9.8" fill="#222" textLength="77.00" lengthAdjust="spacingAndGlyphs"><tspan stroke="#1a1a1a" stroke-width="0.24">E. Hydrolase </tspan><tspan stroke="#222" stroke-width="0.12">(PDE2)</tspan></text>
<line x1="300.40" y1="146.80" x2="300.40" y2="206.20" stroke="#7a7a7a" stroke-width="0.8"/>
<line x1="297.80" y1="204.20" x2="401.90" y2="204.20" stroke="#7a7a7a" stroke-width="0.8"/>
<line x1="298.20" y1="204.00" x2="300.40" y2="204.00" stroke="#7a7a7a" stroke-width="0.8"/>
<text x="291.80" y="203.20" font-size="4.6" fill="#222" text-anchor="end" >0.0</text>
<line x1="298.20" y1="189.90" x2="300.40" y2="189.90" stroke="#7a7a7a" stroke-width="0.8"/>
<text x="291.80" y="189.10" font-size="4.6" fill="#222" text-anchor="end" >2.0</text>
<line x1="298.20" y1="175.80" x2="300.40" y2="175.80" stroke="#7a7a7a" stroke-width="0.8"/>
<text x="291.80" y="175.00" font-size="4.6" fill="#222" text-anchor="end" >4.0</text>
<line x1="298.20" y1="161.70" x2="300.40" y2="161.70" stroke="#7a7a7a" stroke-width="0.8"/>
<text x="291.80" y="160.90" font-size="4.6" fill="#222" text-anchor="end" >6.0</text>
<line x1="298.20" y1="147.60" x2="300.40" y2="147.60" stroke="#7a7a7a" stroke-width="0.8"/>
<text x="291.80" y="146.80" font-size="4.6" fill="#222" text-anchor="end" >8.0</text>
<line x1="300.40" y1="204.20" x2="300.40" y2="206.20" stroke="#7a7a7a" stroke-width="0.8"/>
<text x="300.40" y="216.50" font-size="4.7" fill="#222" text-anchor="middle" >0.0</text>
<line x1="320.60" y1="204.20" x2="320.60" y2="206.20" stroke="#7a7a7a" stroke-width="0.8"/>
<text x="320.60" y="216.50" font-size="4.7" fill="#222" text-anchor="middle" >2.0</text>
<line x1="340.80" y1="204.20" x2="340.80" y2="206.20" stroke="#7a7a7a" stroke-width="0.8"/>
<text x="340.80" y="216.50" font-size="4.7" fill="#222" text-anchor="middle" >4.0</text>
<line x1="361.00" y1="204.20" x2="361.00" y2="206.20" stroke="#7a7a7a" stroke-width="0.8"/>
<text x="361.00" y="216.50" font-size="4.7" fill="#222" text-anchor="middle" >6.0</text>
<line x1="381.20" y1="204.20" x2="381.20" y2="206.20" stroke="#7a7a7a" stroke-width="0.8"/>
<text x="381.20" y="216.50" font-size="4.7" fill="#222" text-anchor="middle" >8.0</text>
<line x1="401.40" y1="204.20" x2="401.40" y2="206.20" stroke="#7a7a7a" stroke-width="0.8"/>
<text x="401.40" y="216.50" font-size="4.7" fill="#222" text-anchor="middle" >10.0</text>
<text x="359.40" y="224.40" font-size="5.1" fill="#333" text-anchor="middle" stroke="#333" stroke-width="0.12" textLength="47.00" lengthAdjust="spacingAndGlyphs" >Pose convergence (Å)</text>
<text x="283.50" y="180.50" font-size="5.0" fill="#333" text-anchor="middle" stroke="#333" stroke-width="0.1" textLength="64.30" lengthAdjust="spacingAndGlyphs" transform="rotate(-90 283.50 180.50)" >&lt;Distance to binding site&gt; (Å)</text>
<line x1="322.00" y1="142.00" x2="322.00" y2="204.20" stroke="#acacac" stroke-width="0.7" stroke-dasharray="2.4,2.4"/>
<line x1="303.40" y1="168.50" x2="399.70" y2="168.50" stroke="#acacac" stroke-width="0.75" stroke-dasharray="3.2,2.0"/>
<text x="331.00" y="146.20" font-size="5.0" fill="#a6a6a6" text-anchor="start" textLength="24.00" lengthAdjust="spacingAndGlyphs" >1 off-target</text>
<line x1="357.60" y1="147.20" x2="357.60" y2="142.20" stroke="#a6a6a6" stroke-width="0.6"/>
<path d="M357.60 141.00 L356.40 142.90 L358.80 142.90 Z" fill="#a6a6a6"/>
<circle cx="303.3" cy="180.0" r="1.2" fill="#fff" stroke="#3a3a3a" stroke-width="0.6"/>
<circle cx="304.3" cy="182.3" r="1.2" fill="#fff" stroke="#3a3a3a" stroke-width="0.6"/>
<circle cx="319.6" cy="178.1" r="1.2" fill="#fff" stroke="#3a3a3a" stroke-width="0.6"/>
<circle cx="327.0" cy="175.3" r="1.2" fill="#fff" stroke="#3a3a3a" stroke-width="0.6"/>
<circle cx="335.3" cy="176.5" r="1.2" fill="#fff" stroke="#3a3a3a" stroke-width="0.6"/>
<circle cx="337.4" cy="177.3" r="1.2" fill="#fff" stroke="#3a3a3a" stroke-width="0.6"/>
<circle cx="358.0" cy="174.4" r="1.2" fill="#fff" stroke="#3a3a3a" stroke-width="0.6"/>
<circle cx="331.5" cy="182.9" r="1.2" fill="#fff" stroke="#3a3a3a" stroke-width="0.6"/>
<circle cx="357.6" cy="184.4" r="1.2" fill="#fff" stroke="#3a3a3a" stroke-width="0.6"/>
<circle cx="342.1" cy="189.0" r="1.2" fill="#fff" stroke="#3a3a3a" stroke-width="0.6"/>
<circle cx="343.0" cy="188.4" r="1.2" fill="#fff" stroke="#3a3a3a" stroke-width="0.6"/>
<circle cx="350.5" cy="187.5" r="1.2" fill="#fff" stroke="#3a3a3a" stroke-width="0.6"/>
<circle cx="355.5" cy="189.4" r="1.2" fill="#fff" stroke="#3a3a3a" stroke-width="0.6"/>
<circle cx="324.3" cy="188.4" r="1.2" fill="#fff" stroke="#3a3a3a" stroke-width="0.6"/>
<circle cx="327.6" cy="190.6" r="1.2" fill="#fff" stroke="#3a3a3a" stroke-width="0.6"/>
<circle cx="327.6" cy="192.3" r="1.2" fill="#fff" stroke="#3a3a3a" stroke-width="0.6"/>
<circle cx="328.0" cy="196.6" r="1.2" fill="#fff" stroke="#3a3a3a" stroke-width="0.6"/>
<circle cx="325.5" cy="198.5" r="1.2" fill="#fff" stroke="#3a3a3a" stroke-width="0.6"/>
<circle cx="316.8" cy="193.1" r="1.2" fill="#fff" stroke="#3a3a3a" stroke-width="0.6"/>
<circle cx="319.0" cy="192.8" r="1.2" fill="#fff" stroke="#3a3a3a" stroke-width="0.6"/>
<circle cx="321.8" cy="193.5" r="1.2" fill="#fff" stroke="#3a3a3a" stroke-width="0.6"/>
<circle cx="320.3" cy="196.0" r="1.2" fill="#fff" stroke="#3a3a3a" stroke-width="0.6"/>
<circle cx="314.6" cy="197.9" r="1.2" fill="#fff" stroke="#3a3a3a" stroke-width="0.6"/>
<circle cx="312.0" cy="199.8" r="1.2" fill="#fff" stroke="#3a3a3a" stroke-width="0.6"/>
<circle cx="307.6" cy="191.9" r="1.2" fill="#fff" stroke="#3a3a3a" stroke-width="0.6"/>
<circle cx="302.0" cy="197.3" r="1.2" fill="#4FB6EC" stroke="#18303e" stroke-width="0.55"/>
<circle cx="303.3" cy="198.5" r="1.2" fill="#4FB6EC" stroke="#18303e" stroke-width="0.55"/>
<circle cx="301.8" cy="200.6" r="1.2" fill="#4FB6EC" stroke="#18303e" stroke-width="0.55"/>
<circle cx="302.4" cy="202.3" r="1.2" fill="#4FB6EC" stroke="#18303e" stroke-width="0.55"/>
<circle cx="304.3" cy="200.0" r="1.2" fill="#4FB6EC" stroke="#18303e" stroke-width="0.55"/>
<circle cx="305.5" cy="195.0" r="1.2" fill="#4FB6EC" stroke="#18303e" stroke-width="0.55"/>
<circle cx="307.4" cy="195.0" r="1.2" fill="#4FB6EC" stroke="#18303e" stroke-width="0.55"/>
<circle cx="309.0" cy="195.4" r="1.2" fill="#4FB6EC" stroke="#18303e" stroke-width="0.55"/>
<circle cx="306.8" cy="197.3" r="1.2" fill="#4FB6EC" stroke="#18303e" stroke-width="0.55"/>
<circle cx="309.3" cy="198.5" r="1.2" fill="#4FB6EC" stroke="#18303e" stroke-width="0.55"/>
<circle cx="312.0" cy="199.4" r="1.2" fill="#4FB6EC" stroke="#18303e" stroke-width="0.55"/>
<circle cx="301.1" cy="198.1" r="1.2" fill="#4FB6EC" stroke="#18303e" stroke-width="0.55"/>
<circle cx="304.5" cy="196.9" r="1.2" fill="#4FB6EC" stroke="#18303e" stroke-width="0.55"/>
<text x="418.60" y="134.40" font-size="9.8" fill="#222" textLength="85.40" lengthAdjust="spacingAndGlyphs"><tspan stroke="#1a1a1a" stroke-width="0.24">F. Kinesin </tspan><tspan stroke="#222" stroke-width="0.12">(KIF11/EG5)</tspan></text>
<line x1="440.00" y1="146.80" x2="440.00" y2="206.20" stroke="#7a7a7a" stroke-width="0.8"/>
<line x1="437.40" y1="204.20" x2="541.50" y2="204.20" stroke="#7a7a7a" stroke-width="0.8"/>
<line x1="437.80" y1="204.00" x2="440.00" y2="204.00" stroke="#7a7a7a" stroke-width="0.8"/>
<text x="431.40" y="203.20" font-size="4.6" fill="#222" text-anchor="end" >0.0</text>
<line x1="437.80" y1="189.90" x2="440.00" y2="189.90" stroke="#7a7a7a" stroke-width="0.8"/>
<text x="431.40" y="189.10" font-size="4.6" fill="#222" text-anchor="end" >2.0</text>
<line x1="437.80" y1="175.80" x2="440.00" y2="175.80" stroke="#7a7a7a" stroke-width="0.8"/>
<text x="431.40" y="175.00" font-size="4.6" fill="#222" text-anchor="end" >4.0</text>
<line x1="437.80" y1="161.70" x2="440.00" y2="161.70" stroke="#7a7a7a" stroke-width="0.8"/>
<text x="431.40" y="160.90" font-size="4.6" fill="#222" text-anchor="end" >6.0</text>
<line x1="437.80" y1="147.60" x2="440.00" y2="147.60" stroke="#7a7a7a" stroke-width="0.8"/>
<text x="431.40" y="146.80" font-size="4.6" fill="#222" text-anchor="end" >8.0</text>
<line x1="440.00" y1="204.20" x2="440.00" y2="206.20" stroke="#7a7a7a" stroke-width="0.8"/>
<text x="440.00" y="216.50" font-size="4.7" fill="#222" text-anchor="middle" >0.0</text>
<line x1="460.20" y1="204.20" x2="460.20" y2="206.20" stroke="#7a7a7a" stroke-width="0.8"/>
<text x="460.20" y="216.50" font-size="4.7" fill="#222" text-anchor="middle" >2.0</text>
<line x1="480.40" y1="204.20" x2="480.40" y2="206.20" stroke="#7a7a7a" stroke-width="0.8"/>
<text x="480.40" y="216.50" font-size="4.7" fill="#222" text-anchor="middle" >4.0</text>
<line x1="500.60" y1="204.20" x2="500.60" y2="206.20" stroke="#7a7a7a" stroke-width="0.8"/>
<text x="500.60" y="216.50" font-size="4.7" fill="#222" text-anchor="middle" >6.0</text>
<line x1="520.80" y1="204.20" x2="520.80" y2="206.20" stroke="#7a7a7a" stroke-width="0.8"/>
<text x="520.80" y="216.50" font-size="4.7" fill="#222" text-anchor="middle" >8.0</text>
<line x1="541.00" y1="204.20" x2="541.00" y2="206.20" stroke="#7a7a7a" stroke-width="0.8"/>
<text x="541.00" y="216.50" font-size="4.7" fill="#222" text-anchor="middle" >10.0</text>
<text x="499.00" y="224.40" font-size="5.1" fill="#333" text-anchor="middle" stroke="#333" stroke-width="0.12" textLength="47.00" lengthAdjust="spacingAndGlyphs" >Pose convergence (Å)</text>
<text x="423.10" y="180.50" font-size="5.0" fill="#333" text-anchor="middle" stroke="#333" stroke-width="0.1" textLength="64.30" lengthAdjust="spacingAndGlyphs" transform="rotate(-90 423.10 180.50)" >&lt;Distance to binding site&gt; (Å)</text>
<line x1="461.30" y1="142.00" x2="461.30" y2="204.20" stroke="#acacac" stroke-width="0.7" stroke-dasharray="2.4,2.4"/>
<line x1="443.00" y1="168.50" x2="539.30" y2="168.50" stroke="#acacac" stroke-width="0.75" stroke-dasharray="3.2,2.0"/>
<text x="468.00" y="146.80" font-size="5.0" fill="#a6a6a6" text-anchor="start" textLength="24.00" lengthAdjust="spacingAndGlyphs" >1 off-target</text>
<line x1="495.00" y1="147.20" x2="495.00" y2="142.20" stroke="#a6a6a6" stroke-width="0.6"/>
<path d="M495.00 141.00 L493.80 142.90 L496.20 142.90 Z" fill="#a6a6a6"/>
<text x="517.00" y="159.80" font-size="5.0" fill="#a6a6a6" text-anchor="start" textLength="28.00" lengthAdjust="spacingAndGlyphs" >9 off-targets</text>
<line x1="540.50" y1="163.20" x2="545.10" y2="163.20" stroke="#a6a6a6" stroke-width="0.6"/>
<path d="M546.30 163.20 L544.40 162.00 L544.40 164.40 Z" fill="#a6a6a6"/>
<circle cx="441.5" cy="179.5" r="1.2" fill="#fff" stroke="#3a3a3a" stroke-width="0.6"/>
<circle cx="462.7" cy="169.6" r="1.2" fill="#fff" stroke="#3a3a3a" stroke-width="0.6"/>
<circle cx="490.5" cy="167.1" r="1.2" fill="#fff" stroke="#3a3a3a" stroke-width="0.6"/>
<circle cx="495.9" cy="175.5" r="1.2" fill="#fff" stroke="#3a3a3a" stroke-width="0.6"/>
<circle cx="514.4" cy="173.4" r="1.2" fill="#fff" stroke="#3a3a3a" stroke-width="0.6"/>
<circle cx="539.6" cy="167.4" r="1.2" fill="#fff" stroke="#3a3a3a" stroke-width="0.6"/>
<circle cx="445.3" cy="190.8" r="1.2" fill="#fff" stroke="#3a3a3a" stroke-width="0.6"/>
<circle cx="467.9" cy="188.5" r="1.2" fill="#fff" stroke="#3a3a3a" stroke-width="0.6"/>
<circle cx="472.6" cy="191.9" r="1.2" fill="#fff" stroke="#3a3a3a" stroke-width="0.6"/>
<circle cx="477.1" cy="190.1" r="1.2" fill="#fff" stroke="#3a3a3a" stroke-width="0.6"/>
<circle cx="480.2" cy="188.8" r="1.2" fill="#fff" stroke="#3a3a3a" stroke-width="0.6"/>
<circle cx="490.4" cy="188.1" r="1.2" fill="#fff" stroke="#3a3a3a" stroke-width="0.6"/>
<circle cx="493.5" cy="190.4" r="1.2" fill="#fff" stroke="#3a3a3a" stroke-width="0.6"/>
<circle cx="441.5" cy="190.1" r="1.2" fill="#4FB6EC" stroke="#18303e" stroke-width="0.55"/>
<circle cx="442.2" cy="195.9" r="1.2" fill="#4FB6EC" stroke="#18303e" stroke-width="0.55"/>
<circle cx="442.8" cy="197.0" r="1.2" fill="#4FB6EC" stroke="#18303e" stroke-width="0.55"/>
<circle cx="444.5" cy="196.3" r="1.2" fill="#4FB6EC" stroke="#18303e" stroke-width="0.55"/>
<circle cx="442.6" cy="199.0" r="1.2" fill="#4FB6EC" stroke="#18303e" stroke-width="0.55"/>
<circle cx="449.4" cy="195.3" r="1.2" fill="#4FB6EC" stroke="#18303e" stroke-width="0.55"/>
<circle cx="452.4" cy="197.4" r="1.2" fill="#4FB6EC" stroke="#18303e" stroke-width="0.55"/>
<circle cx="455.6" cy="199.7" r="1.2" fill="#4FB6EC" stroke="#18303e" stroke-width="0.55"/>
<circle cx="461.8" cy="198.6" r="1.2" fill="#4FB6EC" stroke="#18303e" stroke-width="0.55"/>
<circle cx="464.5" cy="195.6" r="1.2" fill="#4FB6EC" stroke="#18303e" stroke-width="0.55"/>
<circle cx="465.7" cy="197.7" r="1.2" fill="#4FB6EC" stroke="#18303e" stroke-width="0.55"/>
<circle cx="442.2" cy="198.1" r="1.2" fill="#4FB6EC" stroke="#18303e" stroke-width="0.55"/>
<text x="557.60" y="135.10" font-size="9.8" fill="#222" textLength="95.40" lengthAdjust="spacingAndGlyphs"><tspan stroke="#1a1a1a" stroke-width="0.24">G. Phosphatase </tspan><tspan stroke="#222" stroke-width="0.12">(PTN11)</tspan></text>
<line x1="579.00" y1="148.50" x2="579.00" y2="207.90" stroke="#7a7a7a" stroke-width="0.8"/>
<line x1="576.40" y1="205.90" x2="680.50" y2="205.90" stroke="#7a7a7a" stroke-width="0.8"/>
<line x1="576.80" y1="205.70" x2="579.00" y2="205.70" stroke="#7a7a7a" stroke-width="0.8"/>
<text x="570.40" y="204.90" font-size="4.6" fill="#222" text-anchor="end" >0.0</text>
<line x1="576.80" y1="191.60" x2="579.00" y2="191.60" stroke="#7a7a7a" stroke-width="0.8"/>
<text x="570.40" y="190.80" font-size="4.6" fill="#222" text-anchor="end" >2.0</text>
<line x1="576.80" y1="177.50" x2="579.00" y2="177.50" stroke="#7a7a7a" stroke-width="0.8"/>
<text x="570.40" y="176.70" font-size="4.6" fill="#222" text-anchor="end" >4.0</text>
<line x1="576.80" y1="163.40" x2="579.00" y2="163.40" stroke="#7a7a7a" stroke-width="0.8"/>
<text x="570.40" y="162.60" font-size="4.6" fill="#222" text-anchor="end" >6.0</text>
<line x1="576.80" y1="149.30" x2="579.00" y2="149.30" stroke="#7a7a7a" stroke-width="0.8"/>
<text x="570.40" y="148.50" font-size="4.6" fill="#222" text-anchor="end" >8.0</text>
<line x1="579.00" y1="205.90" x2="579.00" y2="207.90" stroke="#7a7a7a" stroke-width="0.8"/>
<text x="579.00" y="218.20" font-size="4.7" fill="#222" text-anchor="middle" >0.0</text>
<line x1="599.20" y1="205.90" x2="599.20" y2="207.90" stroke="#7a7a7a" stroke-width="0.8"/>
<text x="599.20" y="218.20" font-size="4.7" fill="#222" text-anchor="middle" >2.0</text>
<line x1="619.40" y1="205.90" x2="619.40" y2="207.90" stroke="#7a7a7a" stroke-width="0.8"/>
<text x="619.40" y="218.20" font-size="4.7" fill="#222" text-anchor="middle" >4.0</text>
<line x1="639.60" y1="205.90" x2="639.60" y2="207.90" stroke="#7a7a7a" stroke-width="0.8"/>
<text x="639.60" y="218.20" font-size="4.7" fill="#222" text-anchor="middle" >6.0</text>
<line x1="659.80" y1="205.90" x2="659.80" y2="207.90" stroke="#7a7a7a" stroke-width="0.8"/>
<text x="659.80" y="218.20" font-size="4.7" fill="#222" text-anchor="middle" >8.0</text>
<line x1="680.00" y1="205.90" x2="680.00" y2="207.90" stroke="#7a7a7a" stroke-width="0.8"/>
<text x="680.00" y="218.20" font-size="4.7" fill="#222" text-anchor="middle" >10.0</text>
<text x="638.00" y="226.10" font-size="5.1" fill="#333" text-anchor="middle" stroke="#333" stroke-width="0.12" textLength="47.00" lengthAdjust="spacingAndGlyphs" >Pose convergence (Å)</text>
<text x="562.10" y="182.20" font-size="5.0" fill="#333" text-anchor="middle" stroke="#333" stroke-width="0.1" textLength="64.30" lengthAdjust="spacingAndGlyphs" transform="rotate(-90 562.10 182.20)" >&lt;Distance to binding site&gt; (Å)</text>
<line x1="600.50" y1="143.70" x2="600.50" y2="205.90" stroke="#acacac" stroke-width="0.7" stroke-dasharray="2.4,2.4"/>
<line x1="582.00" y1="170.20" x2="678.30" y2="170.20" stroke="#acacac" stroke-width="0.75" stroke-dasharray="3.2,2.0"/>
<text x="655.00" y="148.80" font-size="5.0" fill="#a6a6a6" text-anchor="start" textLength="27.00" lengthAdjust="spacingAndGlyphs" >9 off-targets</text>
<line x1="669.00" y1="152.30" x2="673.60" y2="152.30" stroke="#a6a6a6" stroke-width="0.6"/>
<path d="M674.80 152.30 L672.90 151.10 L672.90 153.50 Z" fill="#a6a6a6"/>
<circle cx="594.2" cy="163.1" r="1.2" fill="#fff" stroke="#3a3a3a" stroke-width="0.6"/>
<circle cx="612.1" cy="164.5" r="1.2" fill="#fff" stroke="#3a3a3a" stroke-width="0.6"/>
<circle cx="585.5" cy="178.6" r="1.2" fill="#fff" stroke="#3a3a3a" stroke-width="0.6"/>
<circle cx="596.7" cy="185.5" r="1.2" fill="#fff" stroke="#3a3a3a" stroke-width="0.6"/>
<circle cx="588.3" cy="188.3" r="1.2" fill="#fff" stroke="#3a3a3a" stroke-width="0.6"/>
<circle cx="620.8" cy="181.4" r="1.2" fill="#fff" stroke="#3a3a3a" stroke-width="0.6"/>
<circle cx="608.6" cy="191.0" r="1.2" fill="#fff" stroke="#3a3a3a" stroke-width="0.6"/>
<circle cx="630.8" cy="178.6" r="1.2" fill="#fff" stroke="#3a3a3a" stroke-width="0.6"/>
<circle cx="634.7" cy="181.4" r="1.2" fill="#fff" stroke="#3a3a3a" stroke-width="0.6"/>
<circle cx="632.2" cy="184.2" r="1.2" fill="#fff" stroke="#3a3a3a" stroke-width="0.6"/>
<circle cx="630.5" cy="154.0" r="1.2" fill="#fff" stroke="#3a3a3a" stroke-width="0.6"/>
<circle cx="636.4" cy="151.9" r="1.2" fill="#fff" stroke="#3a3a3a" stroke-width="0.6"/>
<circle cx="645.7" cy="150.5" r="1.2" fill="#fff" stroke="#3a3a3a" stroke-width="0.6"/>
<circle cx="654.6" cy="155.5" r="1.2" fill="#fff" stroke="#3a3a3a" stroke-width="0.6"/>
<circle cx="611.8" cy="164.4" r="1.2" fill="#fff" stroke="#3a3a3a" stroke-width="0.6"/>
<circle cx="644.3" cy="169.2" r="1.2" fill="#fff" stroke="#3a3a3a" stroke-width="0.6"/>
<circle cx="616.6" cy="182.1" r="1.2" fill="#4FB6EC" stroke="#18303e" stroke-width="0.55"/>
<circle cx="646.7" cy="169.8" r="1.2" fill="#4FB6EC" stroke="#18303e" stroke-width="0.55"/>
<circle cx="591.1" cy="188.3" r="1.2" fill="#4FB6EC" stroke="#18303e" stroke-width="0.55"/>
<circle cx="599.8" cy="195.7" r="1.2" fill="#4FB6EC" stroke="#18303e" stroke-width="0.55"/>
<circle cx="587.9" cy="196.6" r="1.2" fill="#4FB6EC" stroke="#18303e" stroke-width="0.55"/>
<circle cx="589.7" cy="196.6" r="1.2" fill="#4FB6EC" stroke="#18303e" stroke-width="0.55"/>
<circle cx="580.9" cy="195.7" r="1.2" fill="#4FB6EC" stroke="#18303e" stroke-width="0.55"/>
<circle cx="582.3" cy="195.0" r="1.2" fill="#4FB6EC" stroke="#18303e" stroke-width="0.55"/>
<circle cx="580.2" cy="197.5" r="1.2" fill="#4FB6EC" stroke="#18303e" stroke-width="0.55"/>
<circle cx="583.0" cy="197.1" r="1.2" fill="#4FB6EC" stroke="#18303e" stroke-width="0.55"/>
<circle cx="581.6" cy="199.9" r="1.2" fill="#4FB6EC" stroke="#18303e" stroke-width="0.55"/>
<circle cx="583.7" cy="200.3" r="1.2" fill="#4FB6EC" stroke="#18303e" stroke-width="0.55"/>
<circle cx="580.9" cy="202.0" r="1.2" fill="#4FB6EC" stroke="#18303e" stroke-width="0.55"/>
<circle cx="580.2" cy="204.5" r="1.2" fill="#4FB6EC" stroke="#18303e" stroke-width="0.55"/>
<circle cx="582.3" cy="204.5" r="1.2" fill="#4FB6EC" stroke="#18303e" stroke-width="0.55"/>
<text x="1.00" y="243.00" font-size="9.8" fill="#222" textLength="103.00" lengthAdjust="spacingAndGlyphs"><tspan stroke="#1a1a1a" stroke-width="0.24">H. Oxidoreductase </tspan><tspan stroke="#222" stroke-width="0.12">(DHFR)</tspan></text>
<line x1="22.30" y1="257.30" x2="22.30" y2="316.70" stroke="#7a7a7a" stroke-width="0.8"/>
<line x1="19.70" y1="314.70" x2="123.80" y2="314.70" stroke="#7a7a7a" stroke-width="0.8"/>
<line x1="20.10" y1="314.50" x2="22.30" y2="314.50" stroke="#7a7a7a" stroke-width="0.8"/>
<text x="13.70" y="313.70" font-size="4.6" fill="#222" text-anchor="end" >0.0</text>
<line x1="20.10" y1="300.40" x2="22.30" y2="300.40" stroke="#7a7a7a" stroke-width="0.8"/>
<text x="13.70" y="299.60" font-size="4.6" fill="#222" text-anchor="end" >2.0</text>
<line x1="20.10" y1="286.30" x2="22.30" y2="286.30" stroke="#7a7a7a" stroke-width="0.8"/>
<text x="13.70" y="285.50" font-size="4.6" fill="#222" text-anchor="end" >4.0</text>
<line x1="20.10" y1="272.20" x2="22.30" y2="272.20" stroke="#7a7a7a" stroke-width="0.8"/>
<text x="13.70" y="271.40" font-size="4.6" fill="#222" text-anchor="end" >6.0</text>
<line x1="20.10" y1="258.10" x2="22.30" y2="258.10" stroke="#7a7a7a" stroke-width="0.8"/>
<text x="13.70" y="257.30" font-size="4.6" fill="#222" text-anchor="end" >8.0</text>
<line x1="22.30" y1="314.70" x2="22.30" y2="316.70" stroke="#7a7a7a" stroke-width="0.8"/>
<text x="22.30" y="327.00" font-size="4.7" fill="#222" text-anchor="middle" >0.0</text>
<line x1="42.50" y1="314.70" x2="42.50" y2="316.70" stroke="#7a7a7a" stroke-width="0.8"/>
<text x="42.50" y="327.00" font-size="4.7" fill="#222" text-anchor="middle" >2.0</text>
<line x1="62.70" y1="314.70" x2="62.70" y2="316.70" stroke="#7a7a7a" stroke-width="0.8"/>
<text x="62.70" y="327.00" font-size="4.7" fill="#222" text-anchor="middle" >4.0</text>
<line x1="82.90" y1="314.70" x2="82.90" y2="316.70" stroke="#7a7a7a" stroke-width="0.8"/>
<text x="82.90" y="327.00" font-size="4.7" fill="#222" text-anchor="middle" >6.0</text>
<line x1="103.10" y1="314.70" x2="103.10" y2="316.70" stroke="#7a7a7a" stroke-width="0.8"/>
<text x="103.10" y="327.00" font-size="4.7" fill="#222" text-anchor="middle" >8.0</text>
<line x1="123.30" y1="314.70" x2="123.30" y2="316.70" stroke="#7a7a7a" stroke-width="0.8"/>
<text x="123.30" y="327.00" font-size="4.7" fill="#222" text-anchor="middle" >10.0</text>
<text x="81.30" y="334.90" font-size="5.1" fill="#333" text-anchor="middle" stroke="#333" stroke-width="0.12" textLength="47.00" lengthAdjust="spacingAndGlyphs" >Pose convergence (Å)</text>
<text x="5.40" y="291.00" font-size="5.0" fill="#333" text-anchor="middle" stroke="#333" stroke-width="0.1" textLength="64.30" lengthAdjust="spacingAndGlyphs" transform="rotate(-90 5.40 291.00)" >&lt;Distance to binding site&gt; (Å)</text>
<line x1="43.20" y1="252.50" x2="43.20" y2="314.70" stroke="#acacac" stroke-width="0.7" stroke-dasharray="2.4,2.4"/>
<line x1="25.30" y1="279.20" x2="121.60" y2="279.20" stroke="#acacac" stroke-width="0.75" stroke-dasharray="3.2,2.0"/>
<text x="63.10" y="255.80" font-size="5.0" fill="#a6a6a6" text-anchor="start" textLength="24.80" lengthAdjust="spacingAndGlyphs" >1 off-target</text>
<line x1="91.20" y1="257.00" x2="91.20" y2="252.00" stroke="#a6a6a6" stroke-width="0.6"/>
<path d="M91.20 250.80 L90.00 252.70 L92.40 252.70 Z" fill="#a6a6a6"/>
<circle cx="49.1" cy="283.8" r="1.2" fill="#ddd" stroke="#999" stroke-width="0.6"/>
<circle cx="39.0" cy="304.0" r="1.2" fill="#ddd" stroke="#999" stroke-width="0.6"/>
<circle cx="29.0" cy="305.5" r="1.2" fill="#ddd" stroke="#999" stroke-width="0.6"/>
<circle cx="67.3" cy="269.1" r="1.2" fill="#fff" stroke="#3a3a3a" stroke-width="0.6"/>
<circle cx="91.1" cy="269.5" r="1.2" fill="#fff" stroke="#3a3a3a" stroke-width="0.6"/>
<circle cx="78.5" cy="276.0" r="1.2" fill="#fff" stroke="#3a3a3a" stroke-width="0.6"/>
<circle cx="32.6" cy="286.6" r="1.2" fill="#fff" stroke="#3a3a3a" stroke-width="0.6"/>
<circle cx="39.0" cy="284.1" r="1.2" fill="#fff" stroke="#3a3a3a" stroke-width="0.6"/>
<circle cx="40.6" cy="283.8" r="1.2" fill="#fff" stroke="#3a3a3a" stroke-width="0.6"/>
<circle cx="40.6" cy="286.6" r="1.2" fill="#fff" stroke="#3a3a3a" stroke-width="0.6"/>
<circle cx="48.5" cy="289.9" r="1.2" fill="#fff" stroke="#3a3a3a" stroke-width="0.6"/>
<circle cx="53.4" cy="290.2" r="1.2" fill="#fff" stroke="#3a3a3a" stroke-width="0.6"/>
<circle cx="58.5" cy="289.9" r="1.2" fill="#fff" stroke="#3a3a3a" stroke-width="0.6"/>
<circle cx="43.6" cy="295.5" r="1.2" fill="#fff" stroke="#3a3a3a" stroke-width="0.6"/>
<circle cx="40.6" cy="297.3" r="1.2" fill="#fff" stroke="#3a3a3a" stroke-width="0.6"/>
<circle cx="48.5" cy="299.0" r="1.2" fill="#fff" stroke="#3a3a3a" stroke-width="0.6"/>
<circle cx="57.3" cy="299.0" r="1.2" fill="#fff" stroke="#3a3a3a" stroke-width="0.6"/>
<circle cx="67.8" cy="296.3" r="1.2" fill="#fff" stroke="#3a3a3a" stroke-width="0.6"/>
<circle cx="74.3" cy="295.1" r="1.2" fill="#fff" stroke="#3a3a3a" stroke-width="0.6"/>
<circle cx="70.7" cy="303.7" r="1.2" fill="#fff" stroke="#3a3a3a" stroke-width="0.6"/>
<circle cx="45.4" cy="307.3" r="1.2" fill="#fff" stroke="#3a3a3a" stroke-width="0.6"/>
<circle cx="37.5" cy="299.0" r="1.2" fill="#fff" stroke="#3a3a3a" stroke-width="0.6"/>
<circle cx="40.0" cy="300.0" r="1.2" fill="#fff" stroke="#3a3a3a" stroke-width="0.6"/>
<circle cx="29.2" cy="290.5" r="1.2" fill="#4FB6EC" stroke="#18303e" stroke-width="0.55"/>
<circle cx="24.3" cy="295.1" r="1.2" fill="#4FB6EC" stroke="#18303e" stroke-width="0.55"/>
<circle cx="27.1" cy="295.7" r="1.2" fill="#4FB6EC" stroke="#18303e" stroke-width="0.55"/>
<circle cx="30.8" cy="296.3" r="1.2" fill="#4FB6EC" stroke="#18303e" stroke-width="0.55"/>
<circle cx="25.6" cy="300.0" r="1.2" fill="#4FB6EC" stroke="#18303e" stroke-width="0.55"/>
<circle cx="28.0" cy="300.4" r="1.2" fill="#4FB6EC" stroke="#18303e" stroke-width="0.55"/>
<circle cx="34.5" cy="298.5" r="1.2" fill="#4FB6EC" stroke="#18303e" stroke-width="0.55"/>
<circle cx="35.7" cy="299.4" r="1.2" fill="#4FB6EC" stroke="#18303e" stroke-width="0.55"/>
<circle cx="42.4" cy="299.0" r="1.2" fill="#4FB6EC" stroke="#18303e" stroke-width="0.55"/>
<circle cx="32.4" cy="303.0" r="1.2" fill="#4FB6EC" stroke="#18303e" stroke-width="0.55"/>
<circle cx="24.3" cy="304.3" r="1.2" fill="#4FB6EC" stroke="#18303e" stroke-width="0.55"/>
<circle cx="26.3" cy="304.3" r="1.2" fill="#4FB6EC" stroke="#18303e" stroke-width="0.55"/>
<circle cx="25.6" cy="310.6" r="1.2" fill="#4FB6EC" stroke="#18303e" stroke-width="0.55"/>
<circle cx="26.5" cy="312.2" r="1.2" fill="#4FB6EC" stroke="#18303e" stroke-width="0.55"/>
<text x="140.00" y="243.00" font-size="9.8" fill="#222" textLength="73.00" lengthAdjust="spacingAndGlyphs"><tspan stroke="#1a1a1a" stroke-width="0.24">I. BCL2-like </tspan><tspan stroke="#222" stroke-width="0.12">(MCL1)</tspan></text>
<line x1="160.60" y1="257.30" x2="160.60" y2="316.70" stroke="#7a7a7a" stroke-width="0.8"/>
<line x1="158.00" y1="314.70" x2="262.10" y2="314.70" stroke="#7a7a7a" stroke-width="0.8"/>
<line x1="158.40" y1="314.50" x2="160.60" y2="314.50" stroke="#7a7a7a" stroke-width="0.8"/>
<text x="152.00" y="313.70" font-size="4.6" fill="#222" text-anchor="end" >0.0</text>
<line x1="158.40" y1="300.40" x2="160.60" y2="300.40" stroke="#7a7a7a" stroke-width="0.8"/>
<text x="152.00" y="299.60" font-size="4.6" fill="#222" text-anchor="end" >2.0</text>
<line x1="158.40" y1="286.30" x2="160.60" y2="286.30" stroke="#7a7a7a" stroke-width="0.8"/>
<text x="152.00" y="285.50" font-size="4.6" fill="#222" text-anchor="end" >4.0</text>
<line x1="158.40" y1="272.20" x2="160.60" y2="272.20" stroke="#7a7a7a" stroke-width="0.8"/>
<text x="152.00" y="271.40" font-size="4.6" fill="#222" text-anchor="end" >6.0</text>
<line x1="158.40" y1="258.10" x2="160.60" y2="258.10" stroke="#7a7a7a" stroke-width="0.8"/>
<text x="152.00" y="257.30" font-size="4.6" fill="#222" text-anchor="end" >8.0</text>
<line x1="160.60" y1="314.70" x2="160.60" y2="316.70" stroke="#7a7a7a" stroke-width="0.8"/>
<text x="160.60" y="327.00" font-size="4.7" fill="#222" text-anchor="middle" >0.0</text>
<line x1="180.80" y1="314.70" x2="180.80" y2="316.70" stroke="#7a7a7a" stroke-width="0.8"/>
<text x="180.80" y="327.00" font-size="4.7" fill="#222" text-anchor="middle" >2.0</text>
<line x1="201.00" y1="314.70" x2="201.00" y2="316.70" stroke="#7a7a7a" stroke-width="0.8"/>
<text x="201.00" y="327.00" font-size="4.7" fill="#222" text-anchor="middle" >4.0</text>
<line x1="221.20" y1="314.70" x2="221.20" y2="316.70" stroke="#7a7a7a" stroke-width="0.8"/>
<text x="221.20" y="327.00" font-size="4.7" fill="#222" text-anchor="middle" >6.0</text>
<line x1="241.40" y1="314.70" x2="241.40" y2="316.70" stroke="#7a7a7a" stroke-width="0.8"/>
<text x="241.40" y="327.00" font-size="4.7" fill="#222" text-anchor="middle" >8.0</text>
<line x1="261.60" y1="314.70" x2="261.60" y2="316.70" stroke="#7a7a7a" stroke-width="0.8"/>
<text x="261.60" y="327.00" font-size="4.7" fill="#222" text-anchor="middle" >10.0</text>
<text x="219.60" y="334.90" font-size="5.1" fill="#333" text-anchor="middle" stroke="#333" stroke-width="0.12" textLength="47.00" lengthAdjust="spacingAndGlyphs" >Pose convergence (Å)</text>
<text x="143.70" y="291.00" font-size="5.0" fill="#333" text-anchor="middle" stroke="#333" stroke-width="0.1" textLength="64.30" lengthAdjust="spacingAndGlyphs" transform="rotate(-90 143.70 291.00)" >&lt;Distance to binding site&gt; (Å)</text>
<line x1="181.50" y1="252.50" x2="181.50" y2="314.70" stroke="#acacac" stroke-width="0.7" stroke-dasharray="2.4,2.4"/>
<line x1="163.60" y1="278.50" x2="259.90" y2="278.50" stroke="#acacac" stroke-width="0.75" stroke-dasharray="3.2,2.0"/>
<text x="187.00" y="256.80" font-size="5.0" fill="#a6a6a6" text-anchor="start" textLength="25.00" lengthAdjust="spacingAndGlyphs" >1 off-target</text>
<line x1="215.30" y1="257.50" x2="215.30" y2="252.50" stroke="#a6a6a6" stroke-width="0.6"/>
<path d="M215.30 251.30 L214.10 253.20 L216.50 253.20 Z" fill="#a6a6a6"/>
<text x="241.00" y="269.80" font-size="5.0" fill="#a6a6a6" text-anchor="start" textLength="27.00" lengthAdjust="spacingAndGlyphs" >2 off-targets</text>
<line x1="259.50" y1="273.20" x2="264.10" y2="273.20" stroke="#a6a6a6" stroke-width="0.6"/>
<path d="M265.30 273.20 L263.40 272.00 L263.40 274.40 Z" fill="#a6a6a6"/>
<circle cx="229.9" cy="273.8" r="1.2" fill="#ddd" stroke="#999" stroke-width="0.6"/>
<circle cx="211.4" cy="275.1" r="1.2" fill="#fff" stroke="#3a3a3a" stroke-width="0.6"/>
<circle cx="188.4" cy="282.6" r="1.2" fill="#fff" stroke="#3a3a3a" stroke-width="0.6"/>
<circle cx="218.5" cy="288.2" r="1.2" fill="#fff" stroke="#3a3a3a" stroke-width="0.6"/>
<circle cx="209.6" cy="292.9" r="1.2" fill="#fff" stroke="#3a3a3a" stroke-width="0.6"/>
<circle cx="189.5" cy="294.7" r="1.2" fill="#fff" stroke="#3a3a3a" stroke-width="0.6"/>
<circle cx="191.6" cy="293.6" r="1.2" fill="#fff" stroke="#3a3a3a" stroke-width="0.6"/>
<circle cx="195.7" cy="294.7" r="1.2" fill="#fff" stroke="#3a3a3a" stroke-width="0.6"/>
<circle cx="198.8" cy="297.4" r="1.2" fill="#fff" stroke="#3a3a3a" stroke-width="0.6"/>
<circle cx="202.1" cy="298.1" r="1.2" fill="#fff" stroke="#3a3a3a" stroke-width="0.6"/>
<circle cx="177.5" cy="298.4" r="1.2" fill="#fff" stroke="#3a3a3a" stroke-width="0.6"/>
<circle cx="180.6" cy="301.2" r="1.2" fill="#fff" stroke="#3a3a3a" stroke-width="0.6"/>
<circle cx="181.6" cy="302.2" r="1.2" fill="#fff" stroke="#3a3a3a" stroke-width="0.6"/>
<circle cx="186.5" cy="304.5" r="1.2" fill="#fff" stroke="#3a3a3a" stroke-width="0.6"/>
<circle cx="194.3" cy="306.3" r="1.2" fill="#fff" stroke="#3a3a3a" stroke-width="0.6"/>
<circle cx="173.8" cy="305.2" r="1.2" fill="#fff" stroke="#3a3a3a" stroke-width="0.6"/>
<circle cx="173.1" cy="306.3" r="1.2" fill="#fff" stroke="#3a3a3a" stroke-width="0.6"/>
<circle cx="169.6" cy="295.8" r="1.2" fill="#fff" stroke="#3a3a3a" stroke-width="0.6"/>
<circle cx="172.4" cy="296.3" r="1.2" fill="#fff" stroke="#3a3a3a" stroke-width="0.6"/>
<circle cx="171.0" cy="297.1" r="1.2" fill="#fff" stroke="#3a3a3a" stroke-width="0.6"/>
<circle cx="167.3" cy="303.6" r="1.2" fill="#fff" stroke="#3a3a3a" stroke-width="0.6"/>
<circle cx="208.4" cy="282.3" r="1.2" fill="#4FB6EC" stroke="#18303e" stroke-width="0.55"/>
<circle cx="164.6" cy="293.6" r="1.2" fill="#4FB6EC" stroke="#18303e" stroke-width="0.55"/>
<circle cx="166.2" cy="295.8" r="1.2" fill="#4FB6EC" stroke="#18303e" stroke-width="0.55"/>
<circle cx="164.2" cy="303.6" r="1.2" fill="#4FB6EC" stroke="#18303e" stroke-width="0.55"/>
<circle cx="167.3" cy="304.9" r="1.2" fill="#4FB6EC" stroke="#18303e" stroke-width="0.55"/>
<circle cx="163.2" cy="306.3" r="1.2" fill="#4FB6EC" stroke="#18303e" stroke-width="0.55"/>
<circle cx="162.8" cy="311.1" r="1.2" fill="#4FB6EC" stroke="#18303e" stroke-width="0.55"/>
<circle cx="161.4" cy="311.8" r="1.2" fill="#4FB6EC" stroke="#18303e" stroke-width="0.55"/>
<circle cx="163.8" cy="311.1" r="1.2" fill="#4FB6EC" stroke="#18303e" stroke-width="0.55"/>
<text x="278.00" y="243.00" font-size="9.8" fill="#222" textLength="64.00" lengthAdjust="spacingAndGlyphs"><tspan stroke="#1a1a1a" stroke-width="0.24">J. GPCR </tspan><tspan stroke="#222" stroke-width="0.12">(HCAR3)</tspan></text>
<line x1="300.40" y1="257.30" x2="300.40" y2="316.70" stroke="#7a7a7a" stroke-width="0.8"/>
<line x1="297.80" y1="314.70" x2="401.90" y2="314.70" stroke="#7a7a7a" stroke-width="0.8"/>
<line x1="298.20" y1="314.50" x2="300.40" y2="314.50" stroke="#7a7a7a" stroke-width="0.8"/>
<text x="291.80" y="313.70" font-size="4.6" fill="#222" text-anchor="end" >0.0</text>
<line x1="298.20" y1="300.40" x2="300.40" y2="300.40" stroke="#7a7a7a" stroke-width="0.8"/>
<text x="291.80" y="299.60" font-size="4.6" fill="#222" text-anchor="end" >2.0</text>
<line x1="298.20" y1="286.30" x2="300.40" y2="286.30" stroke="#7a7a7a" stroke-width="0.8"/>
<text x="291.80" y="285.50" font-size="4.6" fill="#222" text-anchor="end" >4.0</text>
<line x1="298.20" y1="272.20" x2="300.40" y2="272.20" stroke="#7a7a7a" stroke-width="0.8"/>
<text x="291.80" y="271.40" font-size="4.6" fill="#222" text-anchor="end" >6.0</text>
<line x1="298.20" y1="258.10" x2="300.40" y2="258.10" stroke="#7a7a7a" stroke-width="0.8"/>
<text x="291.80" y="257.30" font-size="4.6" fill="#222" text-anchor="end" >8.0</text>
<line x1="300.40" y1="314.70" x2="300.40" y2="316.70" stroke="#7a7a7a" stroke-width="0.8"/>
<text x="300.40" y="327.00" font-size="4.7" fill="#222" text-anchor="middle" >0.0</text>
<line x1="320.60" y1="314.70" x2="320.60" y2="316.70" stroke="#7a7a7a" stroke-width="0.8"/>
<text x="320.60" y="327.00" font-size="4.7" fill="#222" text-anchor="middle" >2.0</text>
<line x1="340.80" y1="314.70" x2="340.80" y2="316.70" stroke="#7a7a7a" stroke-width="0.8"/>
<text x="340.80" y="327.00" font-size="4.7" fill="#222" text-anchor="middle" >4.0</text>
<line x1="361.00" y1="314.70" x2="361.00" y2="316.70" stroke="#7a7a7a" stroke-width="0.8"/>
<text x="361.00" y="327.00" font-size="4.7" fill="#222" text-anchor="middle" >6.0</text>
<line x1="381.20" y1="314.70" x2="381.20" y2="316.70" stroke="#7a7a7a" stroke-width="0.8"/>
<text x="381.20" y="327.00" font-size="4.7" fill="#222" text-anchor="middle" >8.0</text>
<line x1="401.40" y1="314.70" x2="401.40" y2="316.70" stroke="#7a7a7a" stroke-width="0.8"/>
<text x="401.40" y="327.00" font-size="4.7" fill="#222" text-anchor="middle" >10.0</text>
<text x="359.40" y="334.90" font-size="5.1" fill="#333" text-anchor="middle" stroke="#333" stroke-width="0.12" textLength="47.00" lengthAdjust="spacingAndGlyphs" >Pose convergence (Å)</text>
<text x="283.50" y="291.00" font-size="5.0" fill="#333" text-anchor="middle" stroke="#333" stroke-width="0.1" textLength="64.30" lengthAdjust="spacingAndGlyphs" transform="rotate(-90 283.50 291.00)" >&lt;Distance to binding site&gt; (Å)</text>
<line x1="322.00" y1="252.50" x2="322.00" y2="314.70" stroke="#acacac" stroke-width="0.7" stroke-dasharray="2.4,2.4"/>
<line x1="303.40" y1="278.50" x2="399.70" y2="278.50" stroke="#acacac" stroke-width="0.75" stroke-dasharray="3.2,2.0"/>
<circle cx="363.3" cy="261.5" r="1.2" fill="#fff" stroke="#3a3a3a" stroke-width="0.6"/>
<circle cx="363.6" cy="271.0" r="1.2" fill="#fff" stroke="#3a3a3a" stroke-width="0.6"/>
<circle cx="330.3" cy="272.2" r="1.2" fill="#fff" stroke="#3a3a3a" stroke-width="0.6"/>
<circle cx="347.2" cy="284.3" r="1.2" fill="#fff" stroke="#3a3a3a" stroke-width="0.6"/>
<circle cx="367.1" cy="286.0" r="1.2" fill="#fff" stroke="#3a3a3a" stroke-width="0.6"/>
<circle cx="346.4" cy="289.1" r="1.2" fill="#fff" stroke="#3a3a3a" stroke-width="0.6"/>
<circle cx="303.5" cy="291.7" r="1.2" fill="#fff" stroke="#3a3a3a" stroke-width="0.6"/>
<circle cx="333.4" cy="293.4" r="1.2" fill="#fff" stroke="#3a3a3a" stroke-width="0.6"/>
<circle cx="332.5" cy="294.6" r="1.2" fill="#fff" stroke="#3a3a3a" stroke-width="0.6"/>
<circle cx="338.6" cy="291.7" r="1.2" fill="#fff" stroke="#3a3a3a" stroke-width="0.6"/>
<circle cx="342.0" cy="290.8" r="1.2" fill="#fff" stroke="#3a3a3a" stroke-width="0.6"/>
<circle cx="343.3" cy="292.2" r="1.2" fill="#fff" stroke="#3a3a3a" stroke-width="0.6"/>
<circle cx="347.7" cy="295.7" r="1.2" fill="#fff" stroke="#3a3a3a" stroke-width="0.6"/>
<circle cx="349.8" cy="294.6" r="1.2" fill="#fff" stroke="#3a3a3a" stroke-width="0.6"/>
<circle cx="348.1" cy="297.4" r="1.2" fill="#fff" stroke="#3a3a3a" stroke-width="0.6"/>
<circle cx="357.1" cy="292.5" r="1.2" fill="#fff" stroke="#3a3a3a" stroke-width="0.6"/>
<circle cx="333.4" cy="300.3" r="1.2" fill="#fff" stroke="#3a3a3a" stroke-width="0.6"/>
<circle cx="335.1" cy="301.2" r="1.2" fill="#fff" stroke="#3a3a3a" stroke-width="0.6"/>
<circle cx="339.5" cy="299.8" r="1.2" fill="#fff" stroke="#3a3a3a" stroke-width="0.6"/>
<circle cx="340.3" cy="300.3" r="1.2" fill="#fff" stroke="#3a3a3a" stroke-width="0.6"/>
<circle cx="352.9" cy="303.3" r="1.2" fill="#fff" stroke="#3a3a3a" stroke-width="0.6"/>
<circle cx="311.5" cy="300.3" r="1.2" fill="#fff" stroke="#3a3a3a" stroke-width="0.6"/>
<circle cx="336.3" cy="293.9" r="1.2" fill="#4FB6EC" stroke="#18303e" stroke-width="0.55"/>
<circle cx="303.5" cy="309.8" r="1.2" fill="#4FB6EC" stroke="#18303e" stroke-width="0.55"/>
<circle cx="307.5" cy="308.1" r="1.2" fill="#4FB6EC" stroke="#18303e" stroke-width="0.55"/>
<circle cx="308.7" cy="306.4" r="1.2" fill="#4FB6EC" stroke="#18303e" stroke-width="0.55"/>
<circle cx="311.5" cy="303.3" r="1.2" fill="#4FB6EC" stroke="#18303e" stroke-width="0.55"/>
<circle cx="314.4" cy="302.6" r="1.2" fill="#4FB6EC" stroke="#18303e" stroke-width="0.55"/>
<circle cx="313.2" cy="305.5" r="1.2" fill="#4FB6EC" stroke="#18303e" stroke-width="0.55"/>
<circle cx="317.9" cy="302.0" r="1.2" fill="#4FB6EC" stroke="#18303e" stroke-width="0.55"/>
<circle cx="318.7" cy="304.3" r="1.2" fill="#4FB6EC" stroke="#18303e" stroke-width="0.55"/>
<circle cx="321.3" cy="307.7" r="1.2" fill="#4FB6EC" stroke="#18303e" stroke-width="0.55"/>
<circle cx="310.1" cy="309.5" r="1.2" fill="#4FB6EC" stroke="#18303e" stroke-width="0.55"/>
<circle cx="312.7" cy="310.2" r="1.2" fill="#4FB6EC" stroke="#18303e" stroke-width="0.55"/>
<circle cx="315.3" cy="304.6" r="1.2" fill="#4FB6EC" stroke="#18303e" stroke-width="0.55"/>
<circle cx="306.6" cy="309.0" r="1.2" fill="#4FB6EC" stroke="#18303e" stroke-width="0.55"/>
<text x="418.60" y="243.00" font-size="9.8" fill="#222" textLength="61.40" lengthAdjust="spacingAndGlyphs"><tspan stroke="#1a1a1a" stroke-width="0.24">K. Lectin </tspan><tspan stroke="#222" stroke-width="0.12">(GAL3)</tspan></text>
<line x1="439.50" y1="257.30" x2="439.50" y2="316.70" stroke="#7a7a7a" stroke-width="0.8"/>
<line x1="436.90" y1="314.70" x2="541.00" y2="314.70" stroke="#7a7a7a" stroke-width="0.8"/>
<line x1="437.30" y1="314.50" x2="439.50" y2="314.50" stroke="#7a7a7a" stroke-width="0.8"/>
<text x="430.90" y="313.70" font-size="4.6" fill="#222" text-anchor="end" >0.0</text>
<line x1="437.30" y1="300.40" x2="439.50" y2="300.40" stroke="#7a7a7a" stroke-width="0.8"/>
<text x="430.90" y="299.60" font-size="4.6" fill="#222" text-anchor="end" >2.0</text>
<line x1="437.30" y1="286.30" x2="439.50" y2="286.30" stroke="#7a7a7a" stroke-width="0.8"/>
<text x="430.90" y="285.50" font-size="4.6" fill="#222" text-anchor="end" >4.0</text>
<line x1="437.30" y1="272.20" x2="439.50" y2="272.20" stroke="#7a7a7a" stroke-width="0.8"/>
<text x="430.90" y="271.40" font-size="4.6" fill="#222" text-anchor="end" >6.0</text>
<line x1="437.30" y1="258.10" x2="439.50" y2="258.10" stroke="#7a7a7a" stroke-width="0.8"/>
<text x="430.90" y="257.30" font-size="4.6" fill="#222" text-anchor="end" >8.0</text>
<line x1="439.50" y1="314.70" x2="439.50" y2="316.70" stroke="#7a7a7a" stroke-width="0.8"/>
<text x="439.50" y="327.00" font-size="4.7" fill="#222" text-anchor="middle" >0.0</text>
<line x1="459.70" y1="314.70" x2="459.70" y2="316.70" stroke="#7a7a7a" stroke-width="0.8"/>
<text x="459.70" y="327.00" font-size="4.7" fill="#222" text-anchor="middle" >2.0</text>
<line x1="479.90" y1="314.70" x2="479.90" y2="316.70" stroke="#7a7a7a" stroke-width="0.8"/>
<text x="479.90" y="327.00" font-size="4.7" fill="#222" text-anchor="middle" >4.0</text>
<line x1="500.10" y1="314.70" x2="500.10" y2="316.70" stroke="#7a7a7a" stroke-width="0.8"/>
<text x="500.10" y="327.00" font-size="4.7" fill="#222" text-anchor="middle" >6.0</text>
<line x1="520.30" y1="314.70" x2="520.30" y2="316.70" stroke="#7a7a7a" stroke-width="0.8"/>
<text x="520.30" y="327.00" font-size="4.7" fill="#222" text-anchor="middle" >8.0</text>
<line x1="540.50" y1="314.70" x2="540.50" y2="316.70" stroke="#7a7a7a" stroke-width="0.8"/>
<text x="540.50" y="327.00" font-size="4.7" fill="#222" text-anchor="middle" >10.0</text>
<text x="498.50" y="334.90" font-size="5.1" fill="#333" text-anchor="middle" stroke="#333" stroke-width="0.12" textLength="47.00" lengthAdjust="spacingAndGlyphs" >Pose convergence (Å)</text>
<text x="422.60" y="291.00" font-size="5.0" fill="#333" text-anchor="middle" stroke="#333" stroke-width="0.1" textLength="64.30" lengthAdjust="spacingAndGlyphs" transform="rotate(-90 422.60 291.00)" >&lt;Distance to binding site&gt; (Å)</text>
<line x1="460.40" y1="252.50" x2="460.40" y2="314.70" stroke="#acacac" stroke-width="0.7" stroke-dasharray="2.4,2.4"/>
<line x1="442.50" y1="279.20" x2="538.80" y2="279.20" stroke="#acacac" stroke-width="0.75" stroke-dasharray="3.2,2.0"/>
<text x="521.40" y="255.60" font-size="5.0" fill="#5b9de0" text-anchor="start" textLength="23.60" lengthAdjust="spacingAndGlyphs" >1 on-target</text>
<line x1="538.00" y1="258.50" x2="542.60" y2="258.50" stroke="#5b9de0" stroke-width="0.9"/>
<path d="M543.80 258.50 L541.90 257.30 L541.90 259.70 Z" fill="#5b9de0"/>
<text x="516.10" y="266.80" font-size="5.0" fill="#a6a6a6" text-anchor="start" textLength="29.20" lengthAdjust="spacingAndGlyphs" >13 off-targets</text>
<line x1="538.00" y1="269.70" x2="542.60" y2="269.70" stroke="#a6a6a6" stroke-width="0.6"/>
<path d="M543.80 269.70 L541.90 268.50 L541.90 270.90 Z" fill="#a6a6a6"/>
<circle cx="450.9" cy="298.7" r="1.2" fill="#ddd" stroke="#999" stroke-width="0.6"/>
<circle cx="486.6" cy="272.3" r="1.2" fill="#fff" stroke="#3a3a3a" stroke-width="0.6"/>
<circle cx="508.9" cy="279.4" r="1.2" fill="#fff" stroke="#3a3a3a" stroke-width="0.6"/>
<circle cx="475.4" cy="287.6" r="1.2" fill="#fff" stroke="#3a3a3a" stroke-width="0.6"/>
<circle cx="481.1" cy="286.4" r="1.2" fill="#fff" stroke="#3a3a3a" stroke-width="0.6"/>
<circle cx="489.9" cy="289.5" r="1.2" fill="#fff" stroke="#3a3a3a" stroke-width="0.6"/>
<circle cx="496.3" cy="292.5" r="1.2" fill="#fff" stroke="#3a3a3a" stroke-width="0.6"/>
<circle cx="488.1" cy="295.8" r="1.2" fill="#fff" stroke="#3a3a3a" stroke-width="0.6"/>
<circle cx="452.7" cy="292.5" r="1.2" fill="#fff" stroke="#3a3a3a" stroke-width="0.6"/>
<circle cx="451.6" cy="296.5" r="1.2" fill="#fff" stroke="#3a3a3a" stroke-width="0.6"/>
<circle cx="444.6" cy="278.9" r="1.2" fill="#4FB6EC" stroke="#18303e" stroke-width="0.55"/>
<circle cx="506.2" cy="278.6" r="1.2" fill="#4FB6EC" stroke="#18303e" stroke-width="0.55"/>
<circle cx="442.3" cy="283.6" r="1.2" fill="#4FB6EC" stroke="#18303e" stroke-width="0.55"/>
<circle cx="442.3" cy="285.0" r="1.2" fill="#4FB6EC" stroke="#18303e" stroke-width="0.55"/>
<circle cx="440.8" cy="288.3" r="1.2" fill="#4FB6EC" stroke="#18303e" stroke-width="0.55"/>
<circle cx="440.8" cy="291.0" r="1.2" fill="#4FB6EC" stroke="#18303e" stroke-width="0.55"/>
<circle cx="443.4" cy="289.5" r="1.2" fill="#4FB6EC" stroke="#18303e" stroke-width="0.55"/>
<circle cx="445.2" cy="290.1" r="1.2" fill="#4FB6EC" stroke="#18303e" stroke-width="0.55"/>
<circle cx="447.2" cy="290.6" r="1.2" fill="#4FB6EC" stroke="#18303e" stroke-width="0.55"/>
<circle cx="448.6" cy="289.1" r="1.2" fill="#4FB6EC" stroke="#18303e" stroke-width="0.55"/>
<circle cx="449.1" cy="290.3" r="1.2" fill="#4FB6EC" stroke="#18303e" stroke-width="0.55"/>
<circle cx="446.7" cy="292.0" r="1.2" fill="#4FB6EC" stroke="#18303e" stroke-width="0.55"/>
<circle cx="445.2" cy="293.5" r="1.2" fill="#4FB6EC" stroke="#18303e" stroke-width="0.55"/>
<circle cx="444.6" cy="296.5" r="1.2" fill="#4FB6EC" stroke="#18303e" stroke-width="0.55"/>
<circle cx="449.8" cy="294.0" r="1.2" fill="#4FB6EC" stroke="#18303e" stroke-width="0.55"/>
<circle cx="444.2" cy="309.5" r="1.2" fill="#4FB6EC" stroke="#18303e" stroke-width="0.55"/>
<circle cx="446.7" cy="309.5" r="1.2" fill="#4FB6EC" stroke="#18303e" stroke-width="0.55"/>
<circle cx="449.1" cy="312.4" r="1.2" fill="#4FB6EC" stroke="#18303e" stroke-width="0.55"/>
<circle cx="443.1" cy="309.9" r="1.2" fill="#4FB6EC" stroke="#18303e" stroke-width="0.55"/>
<text x="557.60" y="243.00" font-size="9.8" fill="#222" textLength="89.40" lengthAdjust="spacingAndGlyphs"><tspan stroke="#1a1a1a" stroke-width="0.24">L. PAS-domain </tspan><tspan stroke="#222" stroke-width="0.12">(EPAS1)</tspan></text>
<line x1="579.00" y1="257.30" x2="579.00" y2="316.70" stroke="#7a7a7a" stroke-width="0.8"/>
<line x1="576.40" y1="314.70" x2="680.50" y2="314.70" stroke="#7a7a7a" stroke-width="0.8"/>
<line x1="576.80" y1="314.50" x2="579.00" y2="314.50" stroke="#7a7a7a" stroke-width="0.8"/>
<text x="570.40" y="313.70" font-size="4.6" fill="#222" text-anchor="end" >0.0</text>
<line x1="576.80" y1="300.40" x2="579.00" y2="300.40" stroke="#7a7a7a" stroke-width="0.8"/>
<text x="570.40" y="299.60" font-size="4.6" fill="#222" text-anchor="end" >2.0</text>
<line x1="576.80" y1="286.30" x2="579.00" y2="286.30" stroke="#7a7a7a" stroke-width="0.8"/>
<text x="570.40" y="285.50" font-size="4.6" fill="#222" text-anchor="end" >4.0</text>
<line x1="576.80" y1="272.20" x2="579.00" y2="272.20" stroke="#7a7a7a" stroke-width="0.8"/>
<text x="570.40" y="271.40" font-size="4.6" fill="#222" text-anchor="end" >6.0</text>
<line x1="576.80" y1="258.10" x2="579.00" y2="258.10" stroke="#7a7a7a" stroke-width="0.8"/>
<text x="570.40" y="257.30" font-size="4.6" fill="#222" text-anchor="end" >8.0</text>
<line x1="579.00" y1="314.70" x2="579.00" y2="316.70" stroke="#7a7a7a" stroke-width="0.8"/>
<text x="579.00" y="327.00" font-size="4.7" fill="#222" text-anchor="middle" >0.0</text>
<line x1="599.20" y1="314.70" x2="599.20" y2="316.70" stroke="#7a7a7a" stroke-width="0.8"/>
<text x="599.20" y="327.00" font-size="4.7" fill="#222" text-anchor="middle" >2.0</text>
<line x1="619.40" y1="314.70" x2="619.40" y2="316.70" stroke="#7a7a7a" stroke-width="0.8"/>
<text x="619.40" y="327.00" font-size="4.7" fill="#222" text-anchor="middle" >4.0</text>
<line x1="639.60" y1="314.70" x2="639.60" y2="316.70" stroke="#7a7a7a" stroke-width="0.8"/>
<text x="639.60" y="327.00" font-size="4.7" fill="#222" text-anchor="middle" >6.0</text>
<line x1="659.80" y1="314.70" x2="659.80" y2="316.70" stroke="#7a7a7a" stroke-width="0.8"/>
<text x="659.80" y="327.00" font-size="4.7" fill="#222" text-anchor="middle" >8.0</text>
<line x1="680.00" y1="314.70" x2="680.00" y2="316.70" stroke="#7a7a7a" stroke-width="0.8"/>
<text x="680.00" y="327.00" font-size="4.7" fill="#222" text-anchor="middle" >10.0</text>
<text x="638.00" y="334.90" font-size="5.1" fill="#333" text-anchor="middle" stroke="#333" stroke-width="0.12" textLength="47.00" lengthAdjust="spacingAndGlyphs" >Pose convergence (Å)</text>
<text x="562.10" y="291.00" font-size="5.0" fill="#333" text-anchor="middle" stroke="#333" stroke-width="0.1" textLength="64.30" lengthAdjust="spacingAndGlyphs" transform="rotate(-90 562.10 291.00)" >&lt;Distance to binding site&gt; (Å)</text>
<line x1="600.40" y1="252.50" x2="600.40" y2="314.70" stroke="#acacac" stroke-width="0.7" stroke-dasharray="2.4,2.4"/>
<line x1="582.00" y1="278.20" x2="678.30" y2="278.20" stroke="#acacac" stroke-width="0.75" stroke-dasharray="3.2,2.0"/>
<text x="619.40" y="257.30" font-size="5.0" fill="#a6a6a6" text-anchor="start" textLength="26.90" lengthAdjust="spacingAndGlyphs" >3 off-targets</text>
<line x1="648.50" y1="256.60" x2="648.50" y2="251.60" stroke="#a6a6a6" stroke-width="0.6"/>
<path d="M648.50 250.40 L647.30 252.30 L649.70 252.30 Z" fill="#a6a6a6"/>
<text x="660.10" y="268.80" font-size="5.0" fill="#a6a6a6" text-anchor="start" textLength="23.90" lengthAdjust="spacingAndGlyphs" >1 off-target</text>
<line x1="672.20" y1="271.80" x2="676.80" y2="271.80" stroke="#a6a6a6" stroke-width="0.6"/>
<path d="M678.00 271.80 L676.10 270.60 L676.10 273.00 Z" fill="#a6a6a6"/>
<circle cx="590.9" cy="304.0" r="1.2" fill="#ddd" stroke="#999" stroke-width="0.6"/>
<circle cx="618.4" cy="274.5" r="1.2" fill="#fff" stroke="#3a3a3a" stroke-width="0.6"/>
<circle cx="582.7" cy="292.3" r="1.2" fill="#fff" stroke="#3a3a3a" stroke-width="0.6"/>
<circle cx="586.7" cy="290.1" r="1.2" fill="#fff" stroke="#3a3a3a" stroke-width="0.6"/>
<circle cx="643.7" cy="290.1" r="1.2" fill="#fff" stroke="#3a3a3a" stroke-width="0.6"/>
<circle cx="609.5" cy="296.2" r="1.2" fill="#fff" stroke="#3a3a3a" stroke-width="0.6"/>
<circle cx="616.5" cy="295.5" r="1.2" fill="#fff" stroke="#3a3a3a" stroke-width="0.6"/>
<circle cx="621.1" cy="292.3" r="1.2" fill="#fff" stroke="#3a3a3a" stroke-width="0.6"/>
<circle cx="627.0" cy="298.4" r="1.2" fill="#fff" stroke="#3a3a3a" stroke-width="0.6"/>
<circle cx="633.6" cy="297.3" r="1.2" fill="#fff" stroke="#3a3a3a" stroke-width="0.6"/>
<circle cx="605.5" cy="302.2" r="1.2" fill="#fff" stroke="#3a3a3a" stroke-width="0.6"/>
<circle cx="618.7" cy="302.2" r="1.2" fill="#fff" stroke="#3a3a3a" stroke-width="0.6"/>
<circle cx="616.2" cy="306.5" r="1.2" fill="#fff" stroke="#3a3a3a" stroke-width="0.6"/>
<circle cx="620.3" cy="306.2" r="1.2" fill="#fff" stroke="#3a3a3a" stroke-width="0.6"/>
<circle cx="622.9" cy="305.1" r="1.2" fill="#fff" stroke="#3a3a3a" stroke-width="0.6"/>
<circle cx="583.1" cy="302.2" r="1.2" fill="#fff" stroke="#3a3a3a" stroke-width="0.6"/>
<circle cx="589.7" cy="307.2" r="1.2" fill="#fff" stroke="#3a3a3a" stroke-width="0.6"/>
<circle cx="584.9" cy="308.4" r="1.2" fill="#fff" stroke="#3a3a3a" stroke-width="0.6"/>
<circle cx="580.2" cy="300.5" r="1.2" fill="#4FB6EC" stroke="#18303e" stroke-width="0.55"/>
<circle cx="581.2" cy="306.2" r="1.2" fill="#4FB6EC" stroke="#18303e" stroke-width="0.55"/>
<circle cx="582.3" cy="307.4" r="1.2" fill="#4FB6EC" stroke="#18303e" stroke-width="0.55"/>
<circle cx="580.2" cy="308.4" r="1.2" fill="#4FB6EC" stroke="#18303e" stroke-width="0.55"/>
<circle cx="580.8" cy="310.6" r="1.2" fill="#4FB6EC" stroke="#18303e" stroke-width="0.55"/>
<circle cx="579.7" cy="312.1" r="1.2" fill="#4FB6EC" stroke="#18303e" stroke-width="0.55"/>
<circle cx="584.2" cy="312.9" r="1.2" fill="#4FB6EC" stroke="#18303e" stroke-width="0.55"/>
<circle cx="587.2" cy="312.6" r="1.2" fill="#4FB6EC" stroke="#18303e" stroke-width="0.55"/>
<circle cx="590.1" cy="312.1" r="1.2" fill="#4FB6EC" stroke="#18303e" stroke-width="0.55"/>
<circle cx="582.0" cy="309.5" r="1.2" fill="#4FB6EC" stroke="#18303e" stroke-width="0.55"/>
</svg>
</body></html>
